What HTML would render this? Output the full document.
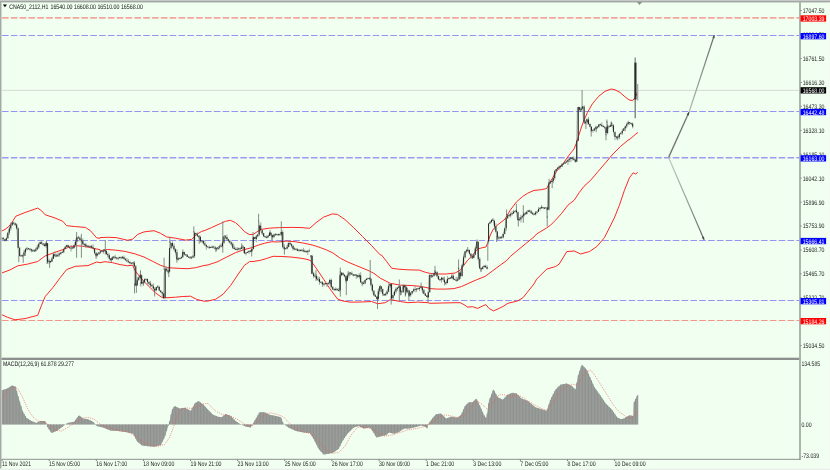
<!DOCTYPE html>
<html><head><meta charset="utf-8"><title>chart</title>
<style>
html,body{margin:0;padding:0;background:#f0fff0;}
body{width:830px;height:470px;overflow:hidden;}
svg{display:block;}
text{font-family:"Liberation Sans",sans-serif;text-rendering:geometricPrecision;}
</style></head><body>
<svg width="830" height="470" viewBox="0 0 830 470">
<defs><filter id="tb" x="-5%" y="-30%" width="110%" height="160%"><feGaussianBlur stdDeviation="0.22"/></filter></defs>
<rect x="0" y="0" width="830" height="470" fill="#f0fff0"/>
<line x1="2" y1="17.8" x2="800" y2="17.8" stroke="#f2a69c" stroke-width="1.8" stroke-dasharray="6.6 2.226"/>
<line x1="2" y1="320.5" x2="800" y2="320.5" stroke="#f2958b" stroke-width="1.2" stroke-dasharray="6.6 2.226"/>
<line x1="2" y1="35.5" x2="800" y2="35.5" stroke="#9494f3" stroke-width="1.2" stroke-dasharray="6.6 2.226"/>
<line x1="2" y1="111.5" x2="800" y2="111.5" stroke="#9494f3" stroke-width="1.2" stroke-dasharray="6.6 2.226"/>
<line x1="2" y1="157.8" x2="800" y2="157.8" stroke="#9a9af3" stroke-width="1.5" stroke-dasharray="6.6 2.226"/>
<line x1="2" y1="240.5" x2="800" y2="240.5" stroke="#9494f3" stroke-width="1.2" stroke-dasharray="6.6 2.226"/>
<line x1="2" y1="300.5" x2="800" y2="300.5" stroke="#9494f3" stroke-width="1.2" stroke-dasharray="6.6 2.226"/>
<line x1="2" y1="90.4" x2="800" y2="90.4" stroke="#d6dbd6" stroke-width="1"/>
<polyline points="1.5,231.1 5.0,229.5 8.8,226.4 11.9,222.6 15.7,216.3 25.1,212.5 37.7,208.1 41.5,210.7 45.2,214.8 54.0,217.6 62.8,221.3 66.6,225.7 75.4,226.6 85.4,227.4 90.5,230.8 96.7,237.9 99.9,238.3 100.0,237.6 107.5,237.3 116.3,237.6 123.9,239.4 127.6,240.3 132.7,239.1 137.7,234.4 144.0,231.9 154.0,230.7 160.3,233.2 166.6,236.9 175.4,238.2 185.4,240.1 191.7,239.4 196.7,234.4 201.8,231.3 204.0,230.8 211.5,227.6 220.3,223.6 225.4,221.3 230.4,220.3 235.4,222.6 240.4,227.0 244.2,231.4 249.2,234.5 253.0,234.5 256.8,232.0 260.5,229.5 269.3,228.2 279.4,227.6 291.9,227.4 302.0,227.6 308.0,228.2 309.8,228.2 316.0,222.7 323.6,217.1 332.4,213.9 337.4,214.4 345.0,219.6 353.7,227.7 362.5,236.5 371.3,245.3 380.1,254.8 381.5,255.0 386.5,261.3 391.6,268.2 397.8,269.1 407.9,269.8 419.2,270.1 425.5,272.3 430.0,273.4 437.5,274.0 446.3,274.0 455.1,273.0 460.2,270.2 463.9,265.2 467.7,260.2 471.5,256.4 475.2,252.0 477.7,248.9 482.8,247.6 485.9,247.0 487.8,242.6 490.3,235.1 492.8,230.0 496.6,225.6 498.8,224.0 505.1,219.0 510.2,210.2 516.4,202.0 522.7,196.4 527.7,193.2 534.0,190.4 540.3,189.8 546.6,188.6 549.1,183.8 552.9,177.5 556.6,171.3 562.8,164.0 569.0,155.2 574.0,149.0 576.6,142.7 579.2,134.0 583.0,122.7 587.4,112.6 592.4,103.8 598.7,96.3 605.0,91.3 611.3,89.0 615.0,89.8 620.1,92.5 625.1,96.9 628.9,99.8 632.6,100.7 635.1,97.6 637.7,91.9" fill="none" stroke="#ff2020" stroke-width="0.97" stroke-linejoin="round"/>
<polyline points="2.0,272.9 10.0,269.9 17.6,265.9 27.6,264.1 37.7,261.5 45.2,255.9 54.0,252.7 62.8,249.6 70.4,246.5 77.9,245.8 85.4,246.5 93.0,248.3 99.9,249.6 100.0,250.8 107.5,249.5 115.1,250.1 125.1,251.4 135.2,253.9 144.0,257.0 152.8,261.4 160.3,265.2 167.8,267.7 177.9,268.3 187.9,268.7 195.5,267.7 204.0,265.5 208.0,264.9 218.0,261.6 219.1,260.9 226.6,257.1 235.4,252.7 244.2,249.6 251.7,247.7 258.0,245.2 264.3,243.3 271.8,241.7 277.5,242.0 286.3,241.1 295.1,241.7 303.9,243.2 312.7,245.1 320.3,247.6 326.5,249.9 332.8,252.9 340.4,258.3 347.9,262.1 355.4,265.2 363.0,268.3 369.2,270.9 374.0,273.4 380.3,278.2 390.3,283.3 400.4,285.2 411.7,285.5 420.5,286.4 428.0,287.9 430.0,288.6 437.5,289.1 445.1,289.1 453.9,288.6 461.4,286.6 468.9,283.2 476.5,279.8 485.3,276.3 492.8,270.7 500.4,265.0 506.6,260.6 510.4,256.4 517.9,250.1 525.5,243.8 534.0,236.9 536.6,234.0 546.5,228.0 550.4,225.3 555.4,220.3 561.7,213.3 567.9,205.2 574.2,200.2 579.2,192.6 584.0,186.3 590.5,180.4 598.0,171.6 605.5,162.8 613.0,154.0 620.6,146.4 628.0,140.2 630.1,139.0 635.1,134.6 637.9,132.5" fill="none" stroke="#ff2020" stroke-width="0.97" stroke-linejoin="round"/>
<polyline points="2.0,314.8 7.5,317.3 15.0,319.8 25.0,318.6 37.7,315.3 41.5,305.3 45.2,296.5 52.8,287.7 60.3,277.6 66.6,269.6 75.4,266.3 88.0,265.6 96.7,262.0 100.0,262.7 105.0,261.7 112.6,262.7 120.1,264.6 127.6,265.8 132.7,265.2 133.2,266.6 135.2,270.8 140.2,277.1 145.2,282.7 150.3,287.8 155.3,292.8 161.6,297.2 165.3,297.8 175.4,297.2 182.9,296.5 190.5,296.2 196.7,299.4 204.0,301.2 208.0,301.0 215.5,299.3 223.0,294.3 230.6,285.5 238.2,274.2 244.4,265.4 249.5,261.6 253.0,261.5 260.5,260.3 266.8,258.4 273.1,256.3 281.9,256.5 291.9,257.1 302.0,258.4 308.0,259.6 311.0,260.9 316.0,267.9 323.6,279.2 330.0,288.9 337.5,299.0 342.6,300.9 350.1,302.1 358.9,302.1 371.5,301.5 377.7,303.7 385.3,302.7 390.3,299.6 400.4,301.5 407.9,302.7 417.9,302.1 428.0,302.7 430.0,303.3 442.6,303.0 455.1,302.7 460.2,302.7 463.9,304.6 467.7,307.1 472.7,306.7 477.7,308.4 482.8,305.9 485.9,304.6 489.0,308.4 493.4,310.9 497.8,309.0 502.9,306.5 507.9,303.3 512.9,302.1 517.9,300.8 523.0,297.7 528.0,291.4 534.0,283.9 536.6,279.2 546.7,269.1 555.4,266.6 559.2,264.1 566.8,251.6 574.3,251.0 580.6,254.0 589.4,251.6 596.9,246.5 604.4,237.7 609.3,228.0 614.3,218.0 619.3,205.5 624.4,190.4 629.4,177.8 633.2,172.8 635.7,174.0 637.7,172.3" fill="none" stroke="#ff2020" stroke-width="0.97" stroke-linejoin="round"/>
<line x1="2.00" y1="237.0" x2="2.00" y2="240.4" stroke="#8a8f8a" stroke-width="0.8"/>
<line x1="3.47" y1="237.1" x2="3.47" y2="239.4" stroke="#8a8f8a" stroke-width="0.8"/>
<line x1="4.94" y1="238.7" x2="4.94" y2="240.6" stroke="#8a8f8a" stroke-width="0.8"/>
<line x1="6.41" y1="237.8" x2="6.41" y2="240.8" stroke="#8a8f8a" stroke-width="0.8"/>
<line x1="7.88" y1="232.5" x2="7.88" y2="238.9" stroke="#8a8f8a" stroke-width="0.8"/>
<line x1="9.35" y1="226.3" x2="9.35" y2="235.0" stroke="#8a8f8a" stroke-width="0.8"/>
<line x1="10.82" y1="222.4" x2="10.82" y2="230.7" stroke="#8a8f8a" stroke-width="0.8"/>
<line x1="12.29" y1="221.8" x2="12.29" y2="226.1" stroke="#8a8f8a" stroke-width="0.8"/>
<line x1="13.76" y1="221.7" x2="13.76" y2="224.2" stroke="#8a8f8a" stroke-width="0.8"/>
<line x1="15.23" y1="222.7" x2="15.23" y2="226.3" stroke="#8a8f8a" stroke-width="0.8"/>
<line x1="16.70" y1="223.6" x2="16.70" y2="229.4" stroke="#8a8f8a" stroke-width="0.8"/>
<line x1="18.17" y1="227.4" x2="18.17" y2="248.1" stroke="#8a8f8a" stroke-width="0.8"/>
<line x1="19.64" y1="246.8" x2="19.64" y2="256.4" stroke="#8a8f8a" stroke-width="0.8"/>
<line x1="21.11" y1="254.5" x2="21.11" y2="256.6" stroke="#8a8f8a" stroke-width="0.8"/>
<line x1="22.58" y1="255.2" x2="22.58" y2="257.2" stroke="#8a8f8a" stroke-width="0.8"/>
<line x1="24.05" y1="249.9" x2="24.05" y2="256.3" stroke="#8a8f8a" stroke-width="0.8"/>
<line x1="25.52" y1="248.5" x2="25.52" y2="256.0" stroke="#8a8f8a" stroke-width="0.8"/>
<line x1="26.99" y1="246.6" x2="26.99" y2="250.4" stroke="#8a8f8a" stroke-width="0.8"/>
<line x1="28.46" y1="247.9" x2="28.46" y2="249.0" stroke="#8a8f8a" stroke-width="0.8"/>
<line x1="29.93" y1="248.5" x2="29.93" y2="251.2" stroke="#8a8f8a" stroke-width="0.8"/>
<line x1="31.40" y1="248.6" x2="31.40" y2="252.4" stroke="#8a8f8a" stroke-width="0.8"/>
<line x1="32.87" y1="249.1" x2="32.87" y2="251.9" stroke="#8a8f8a" stroke-width="0.8"/>
<line x1="34.34" y1="249.3" x2="34.34" y2="251.9" stroke="#8a8f8a" stroke-width="0.8"/>
<line x1="35.81" y1="247.7" x2="35.81" y2="251.8" stroke="#8a8f8a" stroke-width="0.8"/>
<line x1="37.28" y1="245.0" x2="37.28" y2="249.7" stroke="#8a8f8a" stroke-width="0.8"/>
<line x1="38.75" y1="242.6" x2="38.75" y2="248.7" stroke="#8a8f8a" stroke-width="0.8"/>
<line x1="40.22" y1="241.5" x2="40.22" y2="244.2" stroke="#8a8f8a" stroke-width="0.8"/>
<line x1="41.69" y1="240.2" x2="41.69" y2="244.2" stroke="#8a8f8a" stroke-width="0.8"/>
<line x1="43.16" y1="243.3" x2="43.16" y2="245.7" stroke="#8a8f8a" stroke-width="0.8"/>
<line x1="44.63" y1="243.2" x2="44.63" y2="246.7" stroke="#8a8f8a" stroke-width="0.8"/>
<line x1="46.10" y1="241.4" x2="46.10" y2="247.7" stroke="#8a8f8a" stroke-width="0.8"/>
<line x1="47.57" y1="242.9" x2="47.57" y2="263.1" stroke="#8a8f8a" stroke-width="0.8"/>
<line x1="49.04" y1="258.7" x2="49.04" y2="264.1" stroke="#8a8f8a" stroke-width="0.8"/>
<line x1="50.51" y1="260.7" x2="50.51" y2="262.8" stroke="#8a8f8a" stroke-width="0.8"/>
<line x1="51.98" y1="257.0" x2="51.98" y2="261.9" stroke="#8a8f8a" stroke-width="0.8"/>
<line x1="53.45" y1="252.9" x2="53.45" y2="258.8" stroke="#8a8f8a" stroke-width="0.8"/>
<line x1="54.92" y1="251.3" x2="54.92" y2="257.2" stroke="#8a8f8a" stroke-width="0.8"/>
<line x1="56.39" y1="253.8" x2="56.39" y2="256.6" stroke="#8a8f8a" stroke-width="0.8"/>
<line x1="57.86" y1="252.5" x2="57.86" y2="257.1" stroke="#8a8f8a" stroke-width="0.8"/>
<line x1="59.33" y1="252.5" x2="59.33" y2="256.8" stroke="#8a8f8a" stroke-width="0.8"/>
<line x1="60.80" y1="252.1" x2="60.80" y2="254.5" stroke="#8a8f8a" stroke-width="0.8"/>
<line x1="62.27" y1="251.6" x2="62.27" y2="253.0" stroke="#8a8f8a" stroke-width="0.8"/>
<line x1="63.74" y1="248.4" x2="63.74" y2="253.2" stroke="#8a8f8a" stroke-width="0.8"/>
<line x1="65.21" y1="246.0" x2="65.21" y2="249.1" stroke="#8a8f8a" stroke-width="0.8"/>
<line x1="66.68" y1="244.9" x2="66.68" y2="247.0" stroke="#8a8f8a" stroke-width="0.8"/>
<line x1="68.15" y1="244.6" x2="68.15" y2="247.5" stroke="#8a8f8a" stroke-width="0.8"/>
<line x1="69.62" y1="246.2" x2="69.62" y2="248.7" stroke="#8a8f8a" stroke-width="0.8"/>
<line x1="71.09" y1="245.0" x2="71.09" y2="251.5" stroke="#8a8f8a" stroke-width="0.8"/>
<line x1="72.56" y1="247.1" x2="72.56" y2="248.5" stroke="#8a8f8a" stroke-width="0.8"/>
<line x1="74.03" y1="244.7" x2="74.03" y2="248.9" stroke="#8a8f8a" stroke-width="0.8"/>
<line x1="75.50" y1="241.5" x2="75.50" y2="245.5" stroke="#8a8f8a" stroke-width="0.8"/>
<line x1="76.97" y1="237.2" x2="76.97" y2="241.8" stroke="#8a8f8a" stroke-width="0.8"/>
<line x1="78.44" y1="235.9" x2="78.44" y2="238.5" stroke="#8a8f8a" stroke-width="0.8"/>
<line x1="79.91" y1="236.4" x2="79.91" y2="241.4" stroke="#8a8f8a" stroke-width="0.8"/>
<line x1="81.38" y1="239.3" x2="81.38" y2="241.2" stroke="#8a8f8a" stroke-width="0.8"/>
<line x1="82.85" y1="238.3" x2="82.85" y2="244.7" stroke="#8a8f8a" stroke-width="0.8"/>
<line x1="84.32" y1="243.5" x2="84.32" y2="247.0" stroke="#8a8f8a" stroke-width="0.8"/>
<line x1="85.79" y1="242.9" x2="85.79" y2="248.0" stroke="#8a8f8a" stroke-width="0.8"/>
<line x1="87.26" y1="245.7" x2="87.26" y2="247.5" stroke="#8a8f8a" stroke-width="0.8"/>
<line x1="88.73" y1="245.6" x2="88.73" y2="246.9" stroke="#8a8f8a" stroke-width="0.8"/>
<line x1="90.20" y1="245.6" x2="90.20" y2="247.6" stroke="#8a8f8a" stroke-width="0.8"/>
<line x1="91.67" y1="244.7" x2="91.67" y2="248.1" stroke="#8a8f8a" stroke-width="0.8"/>
<line x1="93.14" y1="244.4" x2="93.14" y2="248.7" stroke="#8a8f8a" stroke-width="0.8"/>
<line x1="94.61" y1="248.2" x2="94.61" y2="253.7" stroke="#8a8f8a" stroke-width="0.8"/>
<line x1="96.08" y1="252.2" x2="96.08" y2="257.1" stroke="#8a8f8a" stroke-width="0.8"/>
<line x1="97.55" y1="253.4" x2="97.55" y2="256.6" stroke="#8a8f8a" stroke-width="0.8"/>
<line x1="99.02" y1="252.3" x2="99.02" y2="254.7" stroke="#8a8f8a" stroke-width="0.8"/>
<line x1="100.49" y1="249.8" x2="100.49" y2="253.8" stroke="#8a8f8a" stroke-width="0.8"/>
<line x1="101.96" y1="250.5" x2="101.96" y2="252.2" stroke="#8a8f8a" stroke-width="0.8"/>
<line x1="103.43" y1="249.5" x2="103.43" y2="253.6" stroke="#8a8f8a" stroke-width="0.8"/>
<line x1="104.90" y1="249.3" x2="104.90" y2="251.9" stroke="#8a8f8a" stroke-width="0.8"/>
<line x1="106.37" y1="250.7" x2="106.37" y2="254.8" stroke="#8a8f8a" stroke-width="0.8"/>
<line x1="107.84" y1="252.4" x2="107.84" y2="257.4" stroke="#8a8f8a" stroke-width="0.8"/>
<line x1="109.31" y1="253.6" x2="109.31" y2="260.6" stroke="#8a8f8a" stroke-width="0.8"/>
<line x1="110.78" y1="258.0" x2="110.78" y2="261.0" stroke="#8a8f8a" stroke-width="0.8"/>
<line x1="112.25" y1="257.2" x2="112.25" y2="260.2" stroke="#8a8f8a" stroke-width="0.8"/>
<line x1="113.72" y1="256.1" x2="113.72" y2="259.1" stroke="#8a8f8a" stroke-width="0.8"/>
<line x1="115.19" y1="254.9" x2="115.19" y2="259.1" stroke="#8a8f8a" stroke-width="0.8"/>
<line x1="116.66" y1="257.5" x2="116.66" y2="259.5" stroke="#8a8f8a" stroke-width="0.8"/>
<line x1="118.13" y1="257.6" x2="118.13" y2="260.2" stroke="#8a8f8a" stroke-width="0.8"/>
<line x1="119.60" y1="256.6" x2="119.60" y2="258.3" stroke="#8a8f8a" stroke-width="0.8"/>
<line x1="121.07" y1="256.5" x2="121.07" y2="259.3" stroke="#8a8f8a" stroke-width="0.8"/>
<line x1="122.54" y1="256.0" x2="122.54" y2="258.9" stroke="#8a8f8a" stroke-width="0.8"/>
<line x1="124.01" y1="255.6" x2="124.01" y2="259.2" stroke="#8a8f8a" stroke-width="0.8"/>
<line x1="125.48" y1="257.8" x2="125.48" y2="260.4" stroke="#8a8f8a" stroke-width="0.8"/>
<line x1="126.95" y1="257.9" x2="126.95" y2="261.2" stroke="#8a8f8a" stroke-width="0.8"/>
<line x1="128.42" y1="259.0" x2="128.42" y2="262.2" stroke="#8a8f8a" stroke-width="0.8"/>
<line x1="129.89" y1="261.1" x2="129.89" y2="264.4" stroke="#8a8f8a" stroke-width="0.8"/>
<line x1="131.36" y1="262.7" x2="131.36" y2="264.2" stroke="#8a8f8a" stroke-width="0.8"/>
<line x1="132.83" y1="262.6" x2="132.83" y2="264.5" stroke="#8a8f8a" stroke-width="0.8"/>
<line x1="134.30" y1="261.0" x2="134.30" y2="266.4" stroke="#8a8f8a" stroke-width="0.8"/>
<line x1="135.77" y1="265.1" x2="135.77" y2="286.2" stroke="#8a8f8a" stroke-width="0.8"/>
<line x1="137.24" y1="278.6" x2="137.24" y2="285.5" stroke="#8a8f8a" stroke-width="0.8"/>
<line x1="138.71" y1="276.3" x2="138.71" y2="280.6" stroke="#8a8f8a" stroke-width="0.8"/>
<line x1="140.18" y1="273.4" x2="140.18" y2="278.6" stroke="#8a8f8a" stroke-width="0.8"/>
<line x1="141.65" y1="274.4" x2="141.65" y2="284.0" stroke="#8a8f8a" stroke-width="0.8"/>
<line x1="143.12" y1="280.0" x2="143.12" y2="284.5" stroke="#8a8f8a" stroke-width="0.8"/>
<line x1="144.59" y1="278.3" x2="144.59" y2="283.3" stroke="#8a8f8a" stroke-width="0.8"/>
<line x1="146.06" y1="278.8" x2="146.06" y2="280.1" stroke="#8a8f8a" stroke-width="0.8"/>
<line x1="147.53" y1="278.5" x2="147.53" y2="284.5" stroke="#8a8f8a" stroke-width="0.8"/>
<line x1="149.00" y1="281.4" x2="149.00" y2="285.2" stroke="#8a8f8a" stroke-width="0.8"/>
<line x1="150.47" y1="280.9" x2="150.47" y2="287.1" stroke="#8a8f8a" stroke-width="0.8"/>
<line x1="151.94" y1="283.6" x2="151.94" y2="286.4" stroke="#8a8f8a" stroke-width="0.8"/>
<line x1="153.41" y1="283.6" x2="153.41" y2="288.7" stroke="#8a8f8a" stroke-width="0.8"/>
<line x1="154.88" y1="287.1" x2="154.88" y2="290.9" stroke="#8a8f8a" stroke-width="0.8"/>
<line x1="156.35" y1="286.8" x2="156.35" y2="291.3" stroke="#8a8f8a" stroke-width="0.8"/>
<line x1="157.82" y1="285.0" x2="157.82" y2="287.7" stroke="#8a8f8a" stroke-width="0.8"/>
<line x1="159.29" y1="285.8" x2="159.29" y2="290.6" stroke="#8a8f8a" stroke-width="0.8"/>
<line x1="160.76" y1="290.0" x2="160.76" y2="292.3" stroke="#8a8f8a" stroke-width="0.8"/>
<line x1="162.23" y1="291.5" x2="162.23" y2="296.9" stroke="#8a8f8a" stroke-width="0.8"/>
<line x1="163.70" y1="293.5" x2="163.70" y2="298.1" stroke="#8a8f8a" stroke-width="0.8"/>
<line x1="165.17" y1="268.9" x2="165.17" y2="298.4" stroke="#8a8f8a" stroke-width="0.8"/>
<line x1="166.64" y1="266.9" x2="166.64" y2="271.5" stroke="#8a8f8a" stroke-width="0.8"/>
<line x1="168.11" y1="268.5" x2="168.11" y2="274.1" stroke="#8a8f8a" stroke-width="0.8"/>
<line x1="169.58" y1="247.9" x2="169.58" y2="272.3" stroke="#8a8f8a" stroke-width="0.8"/>
<line x1="171.05" y1="242.6" x2="171.05" y2="249.3" stroke="#8a8f8a" stroke-width="0.8"/>
<line x1="172.52" y1="241.4" x2="172.52" y2="246.5" stroke="#8a8f8a" stroke-width="0.8"/>
<line x1="173.99" y1="243.6" x2="173.99" y2="250.6" stroke="#8a8f8a" stroke-width="0.8"/>
<line x1="175.46" y1="248.3" x2="175.46" y2="253.1" stroke="#8a8f8a" stroke-width="0.8"/>
<line x1="176.93" y1="249.2" x2="176.93" y2="260.2" stroke="#8a8f8a" stroke-width="0.8"/>
<line x1="178.40" y1="257.4" x2="178.40" y2="260.5" stroke="#8a8f8a" stroke-width="0.8"/>
<line x1="179.87" y1="257.4" x2="179.87" y2="259.3" stroke="#8a8f8a" stroke-width="0.8"/>
<line x1="181.34" y1="256.7" x2="181.34" y2="259.1" stroke="#8a8f8a" stroke-width="0.8"/>
<line x1="182.81" y1="252.0" x2="182.81" y2="258.1" stroke="#8a8f8a" stroke-width="0.8"/>
<line x1="184.28" y1="251.6" x2="184.28" y2="255.4" stroke="#8a8f8a" stroke-width="0.8"/>
<line x1="185.75" y1="254.2" x2="185.75" y2="255.2" stroke="#8a8f8a" stroke-width="0.8"/>
<line x1="187.22" y1="254.0" x2="187.22" y2="257.0" stroke="#8a8f8a" stroke-width="0.8"/>
<line x1="188.69" y1="256.2" x2="188.69" y2="257.8" stroke="#8a8f8a" stroke-width="0.8"/>
<line x1="190.16" y1="256.0" x2="190.16" y2="258.8" stroke="#8a8f8a" stroke-width="0.8"/>
<line x1="191.63" y1="256.3" x2="191.63" y2="259.2" stroke="#8a8f8a" stroke-width="0.8"/>
<line x1="193.10" y1="255.0" x2="193.10" y2="257.8" stroke="#8a8f8a" stroke-width="0.8"/>
<line x1="194.57" y1="232.5" x2="194.57" y2="258.0" stroke="#8a8f8a" stroke-width="0.8"/>
<line x1="196.04" y1="232.8" x2="196.04" y2="234.7" stroke="#8a8f8a" stroke-width="0.8"/>
<line x1="197.51" y1="232.4" x2="197.51" y2="236.6" stroke="#8a8f8a" stroke-width="0.8"/>
<line x1="198.98" y1="235.4" x2="198.98" y2="237.5" stroke="#8a8f8a" stroke-width="0.8"/>
<line x1="200.45" y1="235.7" x2="200.45" y2="242.6" stroke="#8a8f8a" stroke-width="0.8"/>
<line x1="201.92" y1="240.5" x2="201.92" y2="242.5" stroke="#8a8f8a" stroke-width="0.8"/>
<line x1="203.39" y1="240.0" x2="203.39" y2="244.4" stroke="#8a8f8a" stroke-width="0.8"/>
<line x1="204.86" y1="239.9" x2="204.86" y2="245.7" stroke="#8a8f8a" stroke-width="0.8"/>
<line x1="206.33" y1="244.7" x2="206.33" y2="249.8" stroke="#8a8f8a" stroke-width="0.8"/>
<line x1="207.80" y1="246.3" x2="207.80" y2="247.2" stroke="#8a8f8a" stroke-width="0.8"/>
<line x1="209.27" y1="245.6" x2="209.27" y2="248.2" stroke="#8a8f8a" stroke-width="0.8"/>
<line x1="210.74" y1="246.8" x2="210.74" y2="248.0" stroke="#8a8f8a" stroke-width="0.8"/>
<line x1="212.21" y1="245.5" x2="212.21" y2="248.1" stroke="#8a8f8a" stroke-width="0.8"/>
<line x1="213.68" y1="245.6" x2="213.68" y2="247.7" stroke="#8a8f8a" stroke-width="0.8"/>
<line x1="215.15" y1="245.9" x2="215.15" y2="249.4" stroke="#8a8f8a" stroke-width="0.8"/>
<line x1="216.62" y1="247.3" x2="216.62" y2="251.0" stroke="#8a8f8a" stroke-width="0.8"/>
<line x1="218.09" y1="246.7" x2="218.09" y2="249.8" stroke="#8a8f8a" stroke-width="0.8"/>
<line x1="219.56" y1="245.4" x2="219.56" y2="249.2" stroke="#8a8f8a" stroke-width="0.8"/>
<line x1="221.03" y1="243.5" x2="221.03" y2="247.4" stroke="#8a8f8a" stroke-width="0.8"/>
<line x1="222.50" y1="241.3" x2="222.50" y2="247.5" stroke="#8a8f8a" stroke-width="0.8"/>
<line x1="223.97" y1="235.7" x2="223.97" y2="244.0" stroke="#8a8f8a" stroke-width="0.8"/>
<line x1="225.44" y1="235.3" x2="225.44" y2="239.3" stroke="#8a8f8a" stroke-width="0.8"/>
<line x1="226.91" y1="234.6" x2="226.91" y2="240.6" stroke="#8a8f8a" stroke-width="0.8"/>
<line x1="228.38" y1="238.8" x2="228.38" y2="241.6" stroke="#8a8f8a" stroke-width="0.8"/>
<line x1="229.85" y1="239.9" x2="229.85" y2="243.2" stroke="#8a8f8a" stroke-width="0.8"/>
<line x1="231.32" y1="241.5" x2="231.32" y2="245.3" stroke="#8a8f8a" stroke-width="0.8"/>
<line x1="232.79" y1="242.5" x2="232.79" y2="249.1" stroke="#8a8f8a" stroke-width="0.8"/>
<line x1="234.26" y1="245.4" x2="234.26" y2="249.1" stroke="#8a8f8a" stroke-width="0.8"/>
<line x1="235.73" y1="247.4" x2="235.73" y2="249.9" stroke="#8a8f8a" stroke-width="0.8"/>
<line x1="237.20" y1="247.2" x2="237.20" y2="250.8" stroke="#8a8f8a" stroke-width="0.8"/>
<line x1="238.67" y1="247.6" x2="238.67" y2="249.8" stroke="#8a8f8a" stroke-width="0.8"/>
<line x1="240.14" y1="247.8" x2="240.14" y2="251.2" stroke="#8a8f8a" stroke-width="0.8"/>
<line x1="241.61" y1="246.2" x2="241.61" y2="249.0" stroke="#8a8f8a" stroke-width="0.8"/>
<line x1="243.08" y1="246.0" x2="243.08" y2="249.7" stroke="#8a8f8a" stroke-width="0.8"/>
<line x1="244.55" y1="246.8" x2="244.55" y2="253.7" stroke="#8a8f8a" stroke-width="0.8"/>
<line x1="246.02" y1="252.4" x2="246.02" y2="255.4" stroke="#8a8f8a" stroke-width="0.8"/>
<line x1="247.49" y1="251.7" x2="247.49" y2="252.7" stroke="#8a8f8a" stroke-width="0.8"/>
<line x1="248.96" y1="250.6" x2="248.96" y2="253.9" stroke="#8a8f8a" stroke-width="0.8"/>
<line x1="250.43" y1="250.2" x2="250.43" y2="252.4" stroke="#8a8f8a" stroke-width="0.8"/>
<line x1="251.90" y1="247.6" x2="251.90" y2="251.6" stroke="#8a8f8a" stroke-width="0.8"/>
<line x1="253.37" y1="236.4" x2="253.37" y2="249.6" stroke="#8a8f8a" stroke-width="0.8"/>
<line x1="254.84" y1="236.9" x2="254.84" y2="239.2" stroke="#8a8f8a" stroke-width="0.8"/>
<line x1="256.31" y1="234.9" x2="256.31" y2="242.2" stroke="#8a8f8a" stroke-width="0.8"/>
<line x1="257.78" y1="234.4" x2="257.78" y2="237.3" stroke="#8a8f8a" stroke-width="0.8"/>
<line x1="259.25" y1="225.2" x2="259.25" y2="236.1" stroke="#8a8f8a" stroke-width="0.8"/>
<line x1="260.72" y1="222.4" x2="260.72" y2="230.7" stroke="#8a8f8a" stroke-width="0.8"/>
<line x1="262.19" y1="229.5" x2="262.19" y2="234.5" stroke="#8a8f8a" stroke-width="0.8"/>
<line x1="263.66" y1="232.8" x2="263.66" y2="237.2" stroke="#8a8f8a" stroke-width="0.8"/>
<line x1="265.13" y1="236.0" x2="265.13" y2="237.4" stroke="#8a8f8a" stroke-width="0.8"/>
<line x1="266.60" y1="235.5" x2="266.60" y2="237.8" stroke="#8a8f8a" stroke-width="0.8"/>
<line x1="268.07" y1="235.1" x2="268.07" y2="238.1" stroke="#8a8f8a" stroke-width="0.8"/>
<line x1="269.54" y1="232.8" x2="269.54" y2="235.9" stroke="#8a8f8a" stroke-width="0.8"/>
<line x1="271.01" y1="232.5" x2="271.01" y2="235.8" stroke="#8a8f8a" stroke-width="0.8"/>
<line x1="272.48" y1="234.6" x2="272.48" y2="239.8" stroke="#8a8f8a" stroke-width="0.8"/>
<line x1="273.95" y1="233.7" x2="273.95" y2="238.1" stroke="#8a8f8a" stroke-width="0.8"/>
<line x1="275.42" y1="233.3" x2="275.42" y2="235.8" stroke="#8a8f8a" stroke-width="0.8"/>
<line x1="276.89" y1="234.2" x2="276.89" y2="235.5" stroke="#8a8f8a" stroke-width="0.8"/>
<line x1="278.36" y1="233.4" x2="278.36" y2="235.7" stroke="#8a8f8a" stroke-width="0.8"/>
<line x1="279.83" y1="234.1" x2="279.83" y2="235.9" stroke="#8a8f8a" stroke-width="0.8"/>
<line x1="281.30" y1="231.6" x2="281.30" y2="235.8" stroke="#8a8f8a" stroke-width="0.8"/>
<line x1="282.77" y1="230.2" x2="282.77" y2="248.4" stroke="#8a8f8a" stroke-width="0.8"/>
<line x1="284.24" y1="244.1" x2="284.24" y2="250.3" stroke="#8a8f8a" stroke-width="0.8"/>
<line x1="285.71" y1="248.2" x2="285.71" y2="249.5" stroke="#8a8f8a" stroke-width="0.8"/>
<line x1="287.18" y1="245.0" x2="287.18" y2="249.3" stroke="#8a8f8a" stroke-width="0.8"/>
<line x1="288.65" y1="243.0" x2="288.65" y2="247.4" stroke="#8a8f8a" stroke-width="0.8"/>
<line x1="290.12" y1="242.1" x2="290.12" y2="245.2" stroke="#8a8f8a" stroke-width="0.8"/>
<line x1="291.59" y1="243.5" x2="291.59" y2="247.7" stroke="#8a8f8a" stroke-width="0.8"/>
<line x1="293.06" y1="245.5" x2="293.06" y2="250.8" stroke="#8a8f8a" stroke-width="0.8"/>
<line x1="294.53" y1="247.3" x2="294.53" y2="249.8" stroke="#8a8f8a" stroke-width="0.8"/>
<line x1="296.00" y1="248.2" x2="296.00" y2="250.3" stroke="#8a8f8a" stroke-width="0.8"/>
<line x1="297.47" y1="248.4" x2="297.47" y2="250.8" stroke="#8a8f8a" stroke-width="0.8"/>
<line x1="298.94" y1="249.0" x2="298.94" y2="251.3" stroke="#8a8f8a" stroke-width="0.8"/>
<line x1="300.41" y1="249.6" x2="300.41" y2="251.4" stroke="#8a8f8a" stroke-width="0.8"/>
<line x1="301.88" y1="249.0" x2="301.88" y2="251.1" stroke="#8a8f8a" stroke-width="0.8"/>
<line x1="303.35" y1="247.8" x2="303.35" y2="252.2" stroke="#8a8f8a" stroke-width="0.8"/>
<line x1="304.82" y1="249.6" x2="304.82" y2="252.5" stroke="#8a8f8a" stroke-width="0.8"/>
<line x1="306.29" y1="250.4" x2="306.29" y2="252.9" stroke="#8a8f8a" stroke-width="0.8"/>
<line x1="307.76" y1="250.2" x2="307.76" y2="255.0" stroke="#8a8f8a" stroke-width="0.8"/>
<line x1="309.23" y1="248.7" x2="309.23" y2="251.4" stroke="#8a8f8a" stroke-width="0.8"/>
<line x1="310.70" y1="255.4" x2="310.70" y2="257.4" stroke="#8a8f8a" stroke-width="0.8"/>
<line x1="312.17" y1="254.9" x2="312.17" y2="274.0" stroke="#8a8f8a" stroke-width="0.8"/>
<line x1="313.64" y1="271.7" x2="313.64" y2="278.2" stroke="#8a8f8a" stroke-width="0.8"/>
<line x1="315.11" y1="273.7" x2="315.11" y2="276.9" stroke="#8a8f8a" stroke-width="0.8"/>
<line x1="316.58" y1="274.3" x2="316.58" y2="279.5" stroke="#8a8f8a" stroke-width="0.8"/>
<line x1="318.05" y1="276.4" x2="318.05" y2="281.4" stroke="#8a8f8a" stroke-width="0.8"/>
<line x1="319.52" y1="276.9" x2="319.52" y2="284.8" stroke="#8a8f8a" stroke-width="0.8"/>
<line x1="320.99" y1="281.2" x2="320.99" y2="283.1" stroke="#8a8f8a" stroke-width="0.8"/>
<line x1="322.46" y1="281.2" x2="322.46" y2="287.0" stroke="#8a8f8a" stroke-width="0.8"/>
<line x1="323.93" y1="282.5" x2="323.93" y2="286.4" stroke="#8a8f8a" stroke-width="0.8"/>
<line x1="325.40" y1="283.2" x2="325.40" y2="284.4" stroke="#8a8f8a" stroke-width="0.8"/>
<line x1="326.87" y1="283.0" x2="326.87" y2="287.0" stroke="#8a8f8a" stroke-width="0.8"/>
<line x1="328.34" y1="282.9" x2="328.34" y2="284.6" stroke="#8a8f8a" stroke-width="0.8"/>
<line x1="329.81" y1="278.7" x2="329.81" y2="284.8" stroke="#8a8f8a" stroke-width="0.8"/>
<line x1="331.28" y1="278.6" x2="331.28" y2="287.6" stroke="#8a8f8a" stroke-width="0.8"/>
<line x1="332.75" y1="286.2" x2="332.75" y2="289.9" stroke="#8a8f8a" stroke-width="0.8"/>
<line x1="334.22" y1="288.2" x2="334.22" y2="290.2" stroke="#8a8f8a" stroke-width="0.8"/>
<line x1="335.69" y1="287.3" x2="335.69" y2="290.6" stroke="#8a8f8a" stroke-width="0.8"/>
<line x1="337.16" y1="288.2" x2="337.16" y2="290.4" stroke="#8a8f8a" stroke-width="0.8"/>
<line x1="338.63" y1="287.9" x2="338.63" y2="291.2" stroke="#8a8f8a" stroke-width="0.8"/>
<line x1="340.10" y1="273.9" x2="340.10" y2="290.5" stroke="#8a8f8a" stroke-width="0.8"/>
<line x1="341.57" y1="272.1" x2="341.57" y2="275.9" stroke="#8a8f8a" stroke-width="0.8"/>
<line x1="343.04" y1="272.2" x2="343.04" y2="275.2" stroke="#8a8f8a" stroke-width="0.8"/>
<line x1="344.51" y1="274.1" x2="344.51" y2="277.0" stroke="#8a8f8a" stroke-width="0.8"/>
<line x1="345.98" y1="275.1" x2="345.98" y2="282.9" stroke="#8a8f8a" stroke-width="0.8"/>
<line x1="347.45" y1="274.8" x2="347.45" y2="280.7" stroke="#8a8f8a" stroke-width="0.8"/>
<line x1="348.92" y1="272.0" x2="348.92" y2="277.9" stroke="#8a8f8a" stroke-width="0.8"/>
<line x1="350.39" y1="272.1" x2="350.39" y2="275.5" stroke="#8a8f8a" stroke-width="0.8"/>
<line x1="351.86" y1="271.6" x2="351.86" y2="274.8" stroke="#8a8f8a" stroke-width="0.8"/>
<line x1="353.33" y1="274.1" x2="353.33" y2="276.4" stroke="#8a8f8a" stroke-width="0.8"/>
<line x1="354.80" y1="274.1" x2="354.80" y2="275.8" stroke="#8a8f8a" stroke-width="0.8"/>
<line x1="356.27" y1="274.0" x2="356.27" y2="279.0" stroke="#8a8f8a" stroke-width="0.8"/>
<line x1="357.74" y1="274.7" x2="357.74" y2="276.9" stroke="#8a8f8a" stroke-width="0.8"/>
<line x1="359.21" y1="273.1" x2="359.21" y2="278.4" stroke="#8a8f8a" stroke-width="0.8"/>
<line x1="360.68" y1="272.3" x2="360.68" y2="282.4" stroke="#8a8f8a" stroke-width="0.8"/>
<line x1="362.15" y1="281.1" x2="362.15" y2="286.4" stroke="#8a8f8a" stroke-width="0.8"/>
<line x1="363.62" y1="281.2" x2="363.62" y2="284.3" stroke="#8a8f8a" stroke-width="0.8"/>
<line x1="365.09" y1="279.3" x2="365.09" y2="284.2" stroke="#8a8f8a" stroke-width="0.8"/>
<line x1="366.56" y1="277.8" x2="366.56" y2="280.1" stroke="#8a8f8a" stroke-width="0.8"/>
<line x1="368.03" y1="277.6" x2="368.03" y2="279.2" stroke="#8a8f8a" stroke-width="0.8"/>
<line x1="369.50" y1="277.9" x2="369.50" y2="280.2" stroke="#8a8f8a" stroke-width="0.8"/>
<line x1="370.97" y1="278.2" x2="370.97" y2="286.1" stroke="#8a8f8a" stroke-width="0.8"/>
<line x1="372.44" y1="283.6" x2="372.44" y2="290.9" stroke="#8a8f8a" stroke-width="0.8"/>
<line x1="373.91" y1="290.3" x2="373.91" y2="296.4" stroke="#8a8f8a" stroke-width="0.8"/>
<line x1="375.38" y1="294.0" x2="375.38" y2="296.9" stroke="#8a8f8a" stroke-width="0.8"/>
<line x1="376.85" y1="296.7" x2="376.85" y2="299.3" stroke="#8a8f8a" stroke-width="0.8"/>
<line x1="378.32" y1="288.6" x2="378.32" y2="300.0" stroke="#8a8f8a" stroke-width="0.8"/>
<line x1="379.79" y1="286.4" x2="379.79" y2="294.1" stroke="#8a8f8a" stroke-width="0.8"/>
<line x1="381.26" y1="286.0" x2="381.26" y2="292.1" stroke="#8a8f8a" stroke-width="0.8"/>
<line x1="382.73" y1="288.8" x2="382.73" y2="296.0" stroke="#8a8f8a" stroke-width="0.8"/>
<line x1="384.20" y1="293.9" x2="384.20" y2="295.3" stroke="#8a8f8a" stroke-width="0.8"/>
<line x1="385.67" y1="292.6" x2="385.67" y2="296.1" stroke="#8a8f8a" stroke-width="0.8"/>
<line x1="387.14" y1="290.6" x2="387.14" y2="294.3" stroke="#8a8f8a" stroke-width="0.8"/>
<line x1="388.61" y1="283.2" x2="388.61" y2="292.4" stroke="#8a8f8a" stroke-width="0.8"/>
<line x1="390.08" y1="283.9" x2="390.08" y2="287.7" stroke="#8a8f8a" stroke-width="0.8"/>
<line x1="391.55" y1="283.2" x2="391.55" y2="298.5" stroke="#8a8f8a" stroke-width="0.8"/>
<line x1="393.02" y1="295.1" x2="393.02" y2="300.6" stroke="#8a8f8a" stroke-width="0.8"/>
<line x1="394.49" y1="290.9" x2="394.49" y2="296.0" stroke="#8a8f8a" stroke-width="0.8"/>
<line x1="395.96" y1="287.4" x2="395.96" y2="293.6" stroke="#8a8f8a" stroke-width="0.8"/>
<line x1="397.43" y1="287.0" x2="397.43" y2="290.9" stroke="#8a8f8a" stroke-width="0.8"/>
<line x1="398.90" y1="286.1" x2="398.90" y2="287.9" stroke="#8a8f8a" stroke-width="0.8"/>
<line x1="400.37" y1="284.8" x2="400.37" y2="295.3" stroke="#8a8f8a" stroke-width="0.8"/>
<line x1="401.84" y1="290.6" x2="401.84" y2="292.5" stroke="#8a8f8a" stroke-width="0.8"/>
<line x1="403.31" y1="284.3" x2="403.31" y2="292.9" stroke="#8a8f8a" stroke-width="0.8"/>
<line x1="404.78" y1="284.6" x2="404.78" y2="287.6" stroke="#8a8f8a" stroke-width="0.8"/>
<line x1="406.25" y1="285.8" x2="406.25" y2="293.0" stroke="#8a8f8a" stroke-width="0.8"/>
<line x1="407.72" y1="289.4" x2="407.72" y2="293.3" stroke="#8a8f8a" stroke-width="0.8"/>
<line x1="409.19" y1="289.9" x2="409.19" y2="296.2" stroke="#8a8f8a" stroke-width="0.8"/>
<line x1="410.66" y1="292.0" x2="410.66" y2="296.8" stroke="#8a8f8a" stroke-width="0.8"/>
<line x1="412.13" y1="291.0" x2="412.13" y2="294.4" stroke="#8a8f8a" stroke-width="0.8"/>
<line x1="413.60" y1="288.3" x2="413.60" y2="292.2" stroke="#8a8f8a" stroke-width="0.8"/>
<line x1="415.07" y1="285.8" x2="415.07" y2="292.3" stroke="#8a8f8a" stroke-width="0.8"/>
<line x1="416.54" y1="288.4" x2="416.54" y2="291.9" stroke="#8a8f8a" stroke-width="0.8"/>
<line x1="418.01" y1="287.9" x2="418.01" y2="289.4" stroke="#8a8f8a" stroke-width="0.8"/>
<line x1="419.48" y1="286.9" x2="419.48" y2="291.1" stroke="#8a8f8a" stroke-width="0.8"/>
<line x1="420.95" y1="286.2" x2="420.95" y2="288.3" stroke="#8a8f8a" stroke-width="0.8"/>
<line x1="422.42" y1="286.0" x2="422.42" y2="293.3" stroke="#8a8f8a" stroke-width="0.8"/>
<line x1="423.89" y1="289.0" x2="423.89" y2="294.3" stroke="#8a8f8a" stroke-width="0.8"/>
<line x1="425.36" y1="292.8" x2="425.36" y2="296.0" stroke="#8a8f8a" stroke-width="0.8"/>
<line x1="426.83" y1="295.1" x2="426.83" y2="297.2" stroke="#8a8f8a" stroke-width="0.8"/>
<line x1="428.30" y1="291.6" x2="428.30" y2="297.7" stroke="#8a8f8a" stroke-width="0.8"/>
<line x1="429.77" y1="274.5" x2="429.77" y2="292.9" stroke="#8a8f8a" stroke-width="0.8"/>
<line x1="431.24" y1="273.5" x2="431.24" y2="277.6" stroke="#8a8f8a" stroke-width="0.8"/>
<line x1="432.71" y1="274.5" x2="432.71" y2="276.6" stroke="#8a8f8a" stroke-width="0.8"/>
<line x1="434.18" y1="272.7" x2="434.18" y2="276.7" stroke="#8a8f8a" stroke-width="0.8"/>
<line x1="435.65" y1="271.8" x2="435.65" y2="274.7" stroke="#8a8f8a" stroke-width="0.8"/>
<line x1="437.12" y1="271.2" x2="437.12" y2="276.9" stroke="#8a8f8a" stroke-width="0.8"/>
<line x1="438.59" y1="275.7" x2="438.59" y2="279.8" stroke="#8a8f8a" stroke-width="0.8"/>
<line x1="440.06" y1="278.7" x2="440.06" y2="281.2" stroke="#8a8f8a" stroke-width="0.8"/>
<line x1="441.53" y1="276.8" x2="441.53" y2="282.7" stroke="#8a8f8a" stroke-width="0.8"/>
<line x1="443.00" y1="276.8" x2="443.00" y2="280.1" stroke="#8a8f8a" stroke-width="0.8"/>
<line x1="444.47" y1="276.7" x2="444.47" y2="285.5" stroke="#8a8f8a" stroke-width="0.8"/>
<line x1="445.94" y1="281.5" x2="445.94" y2="285.1" stroke="#8a8f8a" stroke-width="0.8"/>
<line x1="447.41" y1="276.2" x2="447.41" y2="283.2" stroke="#8a8f8a" stroke-width="0.8"/>
<line x1="448.88" y1="277.6" x2="448.88" y2="280.2" stroke="#8a8f8a" stroke-width="0.8"/>
<line x1="450.35" y1="277.1" x2="450.35" y2="278.9" stroke="#8a8f8a" stroke-width="0.8"/>
<line x1="451.82" y1="274.0" x2="451.82" y2="278.9" stroke="#8a8f8a" stroke-width="0.8"/>
<line x1="453.29" y1="274.2" x2="453.29" y2="280.2" stroke="#8a8f8a" stroke-width="0.8"/>
<line x1="454.76" y1="278.3" x2="454.76" y2="279.9" stroke="#8a8f8a" stroke-width="0.8"/>
<line x1="456.23" y1="276.8" x2="456.23" y2="281.0" stroke="#8a8f8a" stroke-width="0.8"/>
<line x1="457.70" y1="277.1" x2="457.70" y2="280.8" stroke="#8a8f8a" stroke-width="0.8"/>
<line x1="459.17" y1="272.3" x2="459.17" y2="280.1" stroke="#8a8f8a" stroke-width="0.8"/>
<line x1="460.64" y1="271.1" x2="460.64" y2="276.4" stroke="#8a8f8a" stroke-width="0.8"/>
<line x1="462.11" y1="264.1" x2="462.11" y2="276.7" stroke="#8a8f8a" stroke-width="0.8"/>
<line x1="463.58" y1="255.7" x2="463.58" y2="266.9" stroke="#8a8f8a" stroke-width="0.8"/>
<line x1="465.05" y1="251.2" x2="465.05" y2="258.3" stroke="#8a8f8a" stroke-width="0.8"/>
<line x1="466.52" y1="249.0" x2="466.52" y2="253.4" stroke="#8a8f8a" stroke-width="0.8"/>
<line x1="467.99" y1="249.6" x2="467.99" y2="251.9" stroke="#8a8f8a" stroke-width="0.8"/>
<line x1="469.46" y1="249.6" x2="469.46" y2="254.1" stroke="#8a8f8a" stroke-width="0.8"/>
<line x1="470.93" y1="253.2" x2="470.93" y2="258.9" stroke="#8a8f8a" stroke-width="0.8"/>
<line x1="472.40" y1="254.1" x2="472.40" y2="258.5" stroke="#8a8f8a" stroke-width="0.8"/>
<line x1="473.87" y1="254.4" x2="473.87" y2="258.2" stroke="#8a8f8a" stroke-width="0.8"/>
<line x1="475.34" y1="246.8" x2="475.34" y2="255.3" stroke="#8a8f8a" stroke-width="0.8"/>
<line x1="476.81" y1="240.6" x2="476.81" y2="249.3" stroke="#8a8f8a" stroke-width="0.8"/>
<line x1="478.28" y1="241.3" x2="478.28" y2="260.1" stroke="#8a8f8a" stroke-width="0.8"/>
<line x1="479.75" y1="257.1" x2="479.75" y2="268.6" stroke="#8a8f8a" stroke-width="0.8"/>
<line x1="481.22" y1="268.1" x2="481.22" y2="271.3" stroke="#8a8f8a" stroke-width="0.8"/>
<line x1="482.69" y1="266.4" x2="482.69" y2="269.3" stroke="#8a8f8a" stroke-width="0.8"/>
<line x1="484.16" y1="265.4" x2="484.16" y2="267.6" stroke="#8a8f8a" stroke-width="0.8"/>
<line x1="485.63" y1="264.7" x2="485.63" y2="267.8" stroke="#8a8f8a" stroke-width="0.8"/>
<line x1="487.10" y1="265.2" x2="487.10" y2="269.1" stroke="#8a8f8a" stroke-width="0.8"/>
<line x1="488.57" y1="223.3" x2="488.57" y2="243.7" stroke="#8a8f8a" stroke-width="0.8"/>
<line x1="490.04" y1="220.9" x2="490.04" y2="224.0" stroke="#8a8f8a" stroke-width="0.8"/>
<line x1="491.51" y1="219.5" x2="491.51" y2="222.5" stroke="#8a8f8a" stroke-width="0.8"/>
<line x1="492.98" y1="218.0" x2="492.98" y2="221.0" stroke="#8a8f8a" stroke-width="0.8"/>
<line x1="494.45" y1="219.7" x2="494.45" y2="229.7" stroke="#8a8f8a" stroke-width="0.8"/>
<line x1="495.92" y1="223.5" x2="495.92" y2="232.3" stroke="#8a8f8a" stroke-width="0.8"/>
<line x1="497.39" y1="230.8" x2="497.39" y2="240.0" stroke="#8a8f8a" stroke-width="0.8"/>
<line x1="498.86" y1="235.8" x2="498.86" y2="239.6" stroke="#8a8f8a" stroke-width="0.8"/>
<line x1="500.33" y1="236.4" x2="500.33" y2="238.7" stroke="#8a8f8a" stroke-width="0.8"/>
<line x1="501.80" y1="236.0" x2="501.80" y2="239.0" stroke="#8a8f8a" stroke-width="0.8"/>
<line x1="503.27" y1="233.7" x2="503.27" y2="238.3" stroke="#8a8f8a" stroke-width="0.8"/>
<line x1="504.74" y1="228.3" x2="504.74" y2="234.3" stroke="#8a8f8a" stroke-width="0.8"/>
<line x1="506.21" y1="216.7" x2="506.21" y2="231.0" stroke="#8a8f8a" stroke-width="0.8"/>
<line x1="507.68" y1="214.9" x2="507.68" y2="218.8" stroke="#8a8f8a" stroke-width="0.8"/>
<line x1="509.15" y1="213.9" x2="509.15" y2="217.0" stroke="#8a8f8a" stroke-width="0.8"/>
<line x1="510.62" y1="212.4" x2="510.62" y2="217.6" stroke="#8a8f8a" stroke-width="0.8"/>
<line x1="512.09" y1="211.1" x2="512.09" y2="215.5" stroke="#8a8f8a" stroke-width="0.8"/>
<line x1="513.56" y1="209.9" x2="513.56" y2="213.7" stroke="#8a8f8a" stroke-width="0.8"/>
<line x1="515.03" y1="210.6" x2="515.03" y2="212.7" stroke="#8a8f8a" stroke-width="0.8"/>
<line x1="516.50" y1="209.9" x2="516.50" y2="212.7" stroke="#8a8f8a" stroke-width="0.8"/>
<line x1="517.97" y1="211.4" x2="517.97" y2="220.3" stroke="#8a8f8a" stroke-width="0.8"/>
<line x1="519.44" y1="217.1" x2="519.44" y2="220.9" stroke="#8a8f8a" stroke-width="0.8"/>
<line x1="520.91" y1="214.8" x2="520.91" y2="222.5" stroke="#8a8f8a" stroke-width="0.8"/>
<line x1="522.38" y1="215.6" x2="522.38" y2="218.2" stroke="#8a8f8a" stroke-width="0.8"/>
<line x1="523.85" y1="212.8" x2="523.85" y2="216.4" stroke="#8a8f8a" stroke-width="0.8"/>
<line x1="525.32" y1="211.9" x2="525.32" y2="214.8" stroke="#8a8f8a" stroke-width="0.8"/>
<line x1="526.79" y1="211.4" x2="526.79" y2="214.7" stroke="#8a8f8a" stroke-width="0.8"/>
<line x1="528.26" y1="210.6" x2="528.26" y2="212.0" stroke="#8a8f8a" stroke-width="0.8"/>
<line x1="529.73" y1="209.7" x2="529.73" y2="212.2" stroke="#8a8f8a" stroke-width="0.8"/>
<line x1="531.20" y1="209.8" x2="531.20" y2="213.7" stroke="#8a8f8a" stroke-width="0.8"/>
<line x1="532.67" y1="211.8" x2="532.67" y2="214.9" stroke="#8a8f8a" stroke-width="0.8"/>
<line x1="534.14" y1="212.8" x2="534.14" y2="214.9" stroke="#8a8f8a" stroke-width="0.8"/>
<line x1="535.61" y1="210.9" x2="535.61" y2="215.4" stroke="#8a8f8a" stroke-width="0.8"/>
<line x1="537.08" y1="211.5" x2="537.08" y2="213.8" stroke="#8a8f8a" stroke-width="0.8"/>
<line x1="538.55" y1="207.2" x2="538.55" y2="212.0" stroke="#8a8f8a" stroke-width="0.8"/>
<line x1="540.02" y1="207.1" x2="540.02" y2="210.5" stroke="#8a8f8a" stroke-width="0.8"/>
<line x1="541.49" y1="205.1" x2="541.49" y2="209.0" stroke="#8a8f8a" stroke-width="0.8"/>
<line x1="542.96" y1="206.7" x2="542.96" y2="208.2" stroke="#8a8f8a" stroke-width="0.8"/>
<line x1="544.43" y1="207.0" x2="544.43" y2="209.1" stroke="#8a8f8a" stroke-width="0.8"/>
<line x1="545.90" y1="207.4" x2="545.90" y2="208.5" stroke="#8a8f8a" stroke-width="0.8"/>
<line x1="547.37" y1="206.8" x2="547.37" y2="209.9" stroke="#8a8f8a" stroke-width="0.8"/>
<line x1="548.84" y1="182.1" x2="548.84" y2="210.6" stroke="#8a8f8a" stroke-width="0.8"/>
<line x1="550.31" y1="181.3" x2="550.31" y2="184.0" stroke="#8a8f8a" stroke-width="0.8"/>
<line x1="551.78" y1="180.9" x2="551.78" y2="182.2" stroke="#8a8f8a" stroke-width="0.8"/>
<line x1="553.25" y1="177.7" x2="553.25" y2="183.2" stroke="#8a8f8a" stroke-width="0.8"/>
<line x1="554.72" y1="169.9" x2="554.72" y2="179.9" stroke="#8a8f8a" stroke-width="0.8"/>
<line x1="556.19" y1="169.1" x2="556.19" y2="172.5" stroke="#8a8f8a" stroke-width="0.8"/>
<line x1="557.66" y1="167.0" x2="557.66" y2="169.8" stroke="#8a8f8a" stroke-width="0.8"/>
<line x1="559.13" y1="165.3" x2="559.13" y2="169.6" stroke="#8a8f8a" stroke-width="0.8"/>
<line x1="560.60" y1="164.9" x2="560.60" y2="168.6" stroke="#8a8f8a" stroke-width="0.8"/>
<line x1="562.07" y1="163.0" x2="562.07" y2="167.0" stroke="#8a8f8a" stroke-width="0.8"/>
<line x1="563.54" y1="162.6" x2="563.54" y2="164.6" stroke="#8a8f8a" stroke-width="0.8"/>
<line x1="565.01" y1="161.5" x2="565.01" y2="164.0" stroke="#8a8f8a" stroke-width="0.8"/>
<line x1="566.48" y1="160.7" x2="566.48" y2="162.6" stroke="#8a8f8a" stroke-width="0.8"/>
<line x1="567.95" y1="159.6" x2="567.95" y2="165.0" stroke="#8a8f8a" stroke-width="0.8"/>
<line x1="569.42" y1="157.8" x2="569.42" y2="162.2" stroke="#8a8f8a" stroke-width="0.8"/>
<line x1="570.89" y1="157.4" x2="570.89" y2="162.0" stroke="#8a8f8a" stroke-width="0.8"/>
<line x1="572.36" y1="156.9" x2="572.36" y2="160.4" stroke="#8a8f8a" stroke-width="0.8"/>
<line x1="573.83" y1="156.2" x2="573.83" y2="160.3" stroke="#8a8f8a" stroke-width="0.8"/>
<line x1="575.30" y1="158.9" x2="575.30" y2="162.8" stroke="#8a8f8a" stroke-width="0.8"/>
<line x1="576.77" y1="139.8" x2="576.77" y2="162.2" stroke="#8a8f8a" stroke-width="0.8"/>
<line x1="578.24" y1="106.7" x2="578.24" y2="141.1" stroke="#8a8f8a" stroke-width="0.8"/>
<line x1="579.71" y1="106.9" x2="579.71" y2="110.3" stroke="#8a8f8a" stroke-width="0.8"/>
<line x1="581.18" y1="107.6" x2="581.18" y2="110.6" stroke="#8a8f8a" stroke-width="0.8"/>
<line x1="582.65" y1="106.2" x2="582.65" y2="108.7" stroke="#8a8f8a" stroke-width="0.8"/>
<line x1="584.12" y1="105.3" x2="584.12" y2="123.8" stroke="#8a8f8a" stroke-width="0.8"/>
<line x1="585.59" y1="120.4" x2="585.59" y2="123.5" stroke="#8a8f8a" stroke-width="0.8"/>
<line x1="587.06" y1="118.5" x2="587.06" y2="124.7" stroke="#8a8f8a" stroke-width="0.8"/>
<line x1="588.53" y1="117.1" x2="588.53" y2="125.0" stroke="#8a8f8a" stroke-width="0.8"/>
<line x1="590.00" y1="123.4" x2="590.00" y2="126.9" stroke="#8a8f8a" stroke-width="0.8"/>
<line x1="591.47" y1="126.5" x2="591.47" y2="130.9" stroke="#8a8f8a" stroke-width="0.8"/>
<line x1="592.94" y1="129.4" x2="592.94" y2="132.6" stroke="#8a8f8a" stroke-width="0.8"/>
<line x1="594.41" y1="128.1" x2="594.41" y2="131.2" stroke="#8a8f8a" stroke-width="0.8"/>
<line x1="595.88" y1="125.5" x2="595.88" y2="130.1" stroke="#8a8f8a" stroke-width="0.8"/>
<line x1="597.35" y1="126.1" x2="597.35" y2="128.7" stroke="#8a8f8a" stroke-width="0.8"/>
<line x1="598.82" y1="124.3" x2="598.82" y2="127.9" stroke="#8a8f8a" stroke-width="0.8"/>
<line x1="600.29" y1="123.5" x2="600.29" y2="125.9" stroke="#8a8f8a" stroke-width="0.8"/>
<line x1="601.76" y1="122.5" x2="601.76" y2="126.4" stroke="#8a8f8a" stroke-width="0.8"/>
<line x1="603.23" y1="124.8" x2="603.23" y2="127.2" stroke="#8a8f8a" stroke-width="0.8"/>
<line x1="604.70" y1="126.5" x2="604.70" y2="128.7" stroke="#8a8f8a" stroke-width="0.8"/>
<line x1="606.17" y1="126.5" x2="606.17" y2="133.3" stroke="#8a8f8a" stroke-width="0.8"/>
<line x1="607.64" y1="124.3" x2="607.64" y2="134.3" stroke="#8a8f8a" stroke-width="0.8"/>
<line x1="609.11" y1="125.3" x2="609.11" y2="126.9" stroke="#8a8f8a" stroke-width="0.8"/>
<line x1="610.58" y1="125.2" x2="610.58" y2="126.8" stroke="#8a8f8a" stroke-width="0.8"/>
<line x1="612.05" y1="122.7" x2="612.05" y2="125.9" stroke="#8a8f8a" stroke-width="0.8"/>
<line x1="613.52" y1="124.3" x2="613.52" y2="132.0" stroke="#8a8f8a" stroke-width="0.8"/>
<line x1="614.99" y1="131.7" x2="614.99" y2="140.1" stroke="#8a8f8a" stroke-width="0.8"/>
<line x1="616.46" y1="136.1" x2="616.46" y2="139.3" stroke="#8a8f8a" stroke-width="0.8"/>
<line x1="617.93" y1="135.3" x2="617.93" y2="138.7" stroke="#8a8f8a" stroke-width="0.8"/>
<line x1="619.40" y1="133.4" x2="619.40" y2="139.2" stroke="#8a8f8a" stroke-width="0.8"/>
<line x1="620.87" y1="132.3" x2="620.87" y2="134.8" stroke="#8a8f8a" stroke-width="0.8"/>
<line x1="622.34" y1="128.7" x2="622.34" y2="134.9" stroke="#8a8f8a" stroke-width="0.8"/>
<line x1="623.81" y1="128.2" x2="623.81" y2="131.1" stroke="#8a8f8a" stroke-width="0.8"/>
<line x1="625.28" y1="126.0" x2="625.28" y2="131.2" stroke="#8a8f8a" stroke-width="0.8"/>
<line x1="626.75" y1="122.4" x2="626.75" y2="128.1" stroke="#8a8f8a" stroke-width="0.8"/>
<line x1="628.22" y1="120.7" x2="628.22" y2="124.7" stroke="#8a8f8a" stroke-width="0.8"/>
<line x1="629.69" y1="122.2" x2="629.69" y2="125.0" stroke="#8a8f8a" stroke-width="0.8"/>
<line x1="631.16" y1="122.6" x2="631.16" y2="124.4" stroke="#8a8f8a" stroke-width="0.8"/>
<line x1="632.63" y1="122.5" x2="632.63" y2="128.3" stroke="#8a8f8a" stroke-width="0.8"/>
<line x1="311.5" y1="255.0" x2="311.5" y2="274.0" stroke="#7a7f7a" stroke-width="0.9"/>
<line x1="316.0" y1="270.0" x2="316.0" y2="281.0" stroke="#7a7f7a" stroke-width="0.9"/>
<line x1="340.3" y1="267.6" x2="340.3" y2="296.5" stroke="#7a7f7a" stroke-width="0.9"/>
<line x1="346.3" y1="277.6" x2="346.3" y2="295.2" stroke="#7a7f7a" stroke-width="0.9"/>
<line x1="370.2" y1="260.0" x2="370.2" y2="278.9" stroke="#7a7f7a" stroke-width="0.9"/>
<line x1="377.5" y1="296.5" x2="377.5" y2="309.0" stroke="#7a7f7a" stroke-width="0.9"/>
<line x1="391.2" y1="296.5" x2="391.2" y2="304.6" stroke="#7a7f7a" stroke-width="0.9"/>
<line x1="399.3" y1="279.5" x2="399.3" y2="301.5" stroke="#7a7f7a" stroke-width="0.9"/>
<line x1="408.9" y1="292.7" x2="408.9" y2="300.2" stroke="#7a7f7a" stroke-width="0.9"/>
<line x1="421.1" y1="282.6" x2="421.1" y2="287.7" stroke="#7a7f7a" stroke-width="0.9"/>
<line x1="428.0" y1="295.2" x2="428.0" y2="302.7" stroke="#7a7f7a" stroke-width="0.9"/>
<line x1="405.4" y1="285.2" x2="405.4" y2="296.5" stroke="#7a7f7a" stroke-width="0.9"/>
<line x1="18.8" y1="255.3" x2="18.8" y2="262.2" stroke="#7a7f7a" stroke-width="0.9"/>
<line x1="23.2" y1="255.3" x2="23.2" y2="262.8" stroke="#7a7f7a" stroke-width="0.9"/>
<line x1="76.6" y1="232.0" x2="76.6" y2="257.8" stroke="#7a7f7a" stroke-width="0.9"/>
<line x1="81.4" y1="233.9" x2="81.4" y2="257.8" stroke="#7a7f7a" stroke-width="0.9"/>
<line x1="96.1" y1="254.0" x2="96.1" y2="259.0" stroke="#7a7f7a" stroke-width="0.9"/>
<line x1="46.5" y1="240.8" x2="46.5" y2="246.5" stroke="#7a7f7a" stroke-width="0.9"/>
<line x1="49.6" y1="260.3" x2="49.6" y2="267.8" stroke="#7a7f7a" stroke-width="0.9"/>
<line x1="105.3" y1="240.1" x2="105.3" y2="254.5" stroke="#7a7f7a" stroke-width="0.9"/>
<line x1="111.3" y1="258.3" x2="111.3" y2="262.7" stroke="#7a7f7a" stroke-width="0.9"/>
<line x1="164.1" y1="257.7" x2="164.1" y2="270.2" stroke="#7a7f7a" stroke-width="0.9"/>
<line x1="168.8" y1="271.5" x2="168.8" y2="277.1" stroke="#7a7f7a" stroke-width="0.9"/>
<line x1="169.8" y1="236.9" x2="169.8" y2="242.6" stroke="#7a7f7a" stroke-width="0.9"/>
<line x1="176.9" y1="258.3" x2="176.9" y2="262.7" stroke="#7a7f7a" stroke-width="0.9"/>
<line x1="182.9" y1="249.5" x2="182.9" y2="253.3" stroke="#7a7f7a" stroke-width="0.9"/>
<line x1="193.8" y1="226.3" x2="193.8" y2="232.5" stroke="#7a7f7a" stroke-width="0.9"/>
<line x1="199.2" y1="236.3" x2="199.2" y2="243.8" stroke="#7a7f7a" stroke-width="0.9"/>
<line x1="134.5" y1="283.4" x2="134.5" y2="293.4" stroke="#7a7f7a" stroke-width="0.9"/>
<line x1="136.4" y1="284.6" x2="136.4" y2="292.8" stroke="#7a7f7a" stroke-width="0.9"/>
<line x1="140.5" y1="270.2" x2="140.5" y2="278.3" stroke="#7a7f7a" stroke-width="0.9"/>
<line x1="140.8" y1="282.1" x2="140.8" y2="286.5" stroke="#7a7f7a" stroke-width="0.9"/>
<line x1="143.3" y1="280.8" x2="143.3" y2="285.9" stroke="#7a7f7a" stroke-width="0.9"/>
<line x1="154.6" y1="289.0" x2="154.6" y2="296.5" stroke="#7a7f7a" stroke-width="0.9"/>
<line x1="222.8" y1="221.3" x2="222.8" y2="252.7" stroke="#7a7f7a" stroke-width="0.9"/>
<line x1="215.9" y1="247.7" x2="215.9" y2="252.1" stroke="#7a7f7a" stroke-width="0.9"/>
<line x1="251.7" y1="249.0" x2="251.7" y2="256.5" stroke="#7a7f7a" stroke-width="0.9"/>
<line x1="253.0" y1="232.0" x2="253.0" y2="238.9" stroke="#7a7f7a" stroke-width="0.9"/>
<line x1="258.6" y1="213.8" x2="258.6" y2="221.3" stroke="#7a7f7a" stroke-width="0.9"/>
<line x1="281.3" y1="221.3" x2="281.3" y2="232.6" stroke="#7a7f7a" stroke-width="0.9"/>
<line x1="284.4" y1="247.7" x2="284.4" y2="254.6" stroke="#7a7f7a" stroke-width="0.9"/>
<line x1="270.0" y1="230.1" x2="270.0" y2="233.9" stroke="#7a7f7a" stroke-width="0.9"/>
<line x1="271.8" y1="235.2" x2="271.8" y2="240.2" stroke="#7a7f7a" stroke-width="0.9"/>
<line x1="241.7" y1="243.3" x2="241.7" y2="247.7" stroke="#7a7f7a" stroke-width="0.9"/>
<line x1="435.0" y1="265.8" x2="435.0" y2="275.3" stroke="#7a7f7a" stroke-width="0.9"/>
<line x1="458.6" y1="259.5" x2="458.6" y2="269.0" stroke="#7a7f7a" stroke-width="0.9"/>
<line x1="467.7" y1="247.0" x2="467.7" y2="251.4" stroke="#7a7f7a" stroke-width="0.9"/>
<line x1="477.1" y1="239.4" x2="477.1" y2="242.6" stroke="#7a7f7a" stroke-width="0.9"/>
<line x1="480.9" y1="267.7" x2="480.9" y2="272.1" stroke="#7a7f7a" stroke-width="0.9"/>
<line x1="487.8" y1="241.3" x2="487.8" y2="260.8" stroke="#7a7f7a" stroke-width="0.9"/>
<line x1="496.6" y1="236.3" x2="496.6" y2="242.0" stroke="#7a7f7a" stroke-width="0.9"/>
<line x1="506.6" y1="209.6" x2="506.6" y2="215.2" stroke="#7a7f7a" stroke-width="0.9"/>
<line x1="516.4" y1="203.9" x2="516.4" y2="211.5" stroke="#7a7f7a" stroke-width="0.9"/>
<line x1="518.3" y1="219.0" x2="518.3" y2="226.5" stroke="#7a7f7a" stroke-width="0.9"/>
<line x1="523.3" y1="205.2" x2="523.3" y2="222.8" stroke="#7a7f7a" stroke-width="0.9"/>
<line x1="547.2" y1="216.5" x2="547.2" y2="226.5" stroke="#7a7f7a" stroke-width="0.9"/>
<line x1="549.1" y1="178.8" x2="549.1" y2="183.8" stroke="#7a7f7a" stroke-width="0.9"/>
<line x1="552.2" y1="180.7" x2="552.2" y2="188.2" stroke="#7a7f7a" stroke-width="0.9"/>
<line x1="582.1" y1="90.0" x2="582.1" y2="107.0" stroke="#7a7f7a" stroke-width="0.9"/>
<line x1="585.9" y1="122.7" x2="585.9" y2="129.0" stroke="#7a7f7a" stroke-width="0.9"/>
<line x1="591.2" y1="130.2" x2="591.2" y2="136.5" stroke="#7a7f7a" stroke-width="0.9"/>
<line x1="596.2" y1="126.5" x2="596.2" y2="132.1" stroke="#7a7f7a" stroke-width="0.9"/>
<line x1="606.0" y1="134.0" x2="606.0" y2="140.3" stroke="#7a7f7a" stroke-width="0.9"/>
<line x1="606.9" y1="119.5" x2="606.9" y2="122.7" stroke="#7a7f7a" stroke-width="0.9"/>
<line x1="611.3" y1="121.4" x2="611.3" y2="126.5" stroke="#7a7f7a" stroke-width="0.9"/>
<line x1="617.6" y1="136.5" x2="617.6" y2="140.3" stroke="#7a7f7a" stroke-width="0.9"/>
<line x1="2.00" y1="238.1" x2="2.00" y2="238.9" stroke="#1a1a1a" stroke-width="0.9"/>
<line x1="3.47" y1="238.3" x2="3.47" y2="239.1" stroke="#1a1a1a" stroke-width="0.9"/>
<line x1="4.94" y1="239.1" x2="4.94" y2="240.5" stroke="#1a1a1a" stroke-width="0.9"/>
<line x1="6.41" y1="238.3" x2="6.41" y2="240.5" stroke="#1a1a1a" stroke-width="0.9"/>
<line x1="7.88" y1="232.8" x2="7.88" y2="238.3" stroke="#1a1a1a" stroke-width="0.9"/>
<line x1="9.35" y1="228.5" x2="9.35" y2="232.8" stroke="#1a1a1a" stroke-width="0.9"/>
<line x1="10.82" y1="225.2" x2="10.82" y2="228.5" stroke="#1a1a1a" stroke-width="0.9"/>
<line x1="12.29" y1="222.5" x2="12.29" y2="225.2" stroke="#1a1a1a" stroke-width="0.9"/>
<line x1="13.76" y1="222.5" x2="13.76" y2="223.4" stroke="#1a1a1a" stroke-width="0.9"/>
<line x1="15.23" y1="223.4" x2="15.23" y2="224.7" stroke="#1a1a1a" stroke-width="0.9"/>
<line x1="16.70" y1="224.7" x2="16.70" y2="228.3" stroke="#1a1a1a" stroke-width="0.9"/>
<line x1="18.17" y1="228.3" x2="18.17" y2="247.8" stroke="#1a1a1a" stroke-width="0.9"/>
<line x1="19.64" y1="247.8" x2="19.64" y2="255.9" stroke="#1a1a1a" stroke-width="0.9"/>
<line x1="21.11" y1="255.5" x2="21.11" y2="256.3" stroke="#1a1a1a" stroke-width="0.9"/>
<line x1="22.58" y1="255.5" x2="22.58" y2="256.3" stroke="#1a1a1a" stroke-width="0.9"/>
<line x1="24.05" y1="252.5" x2="24.05" y2="255.8" stroke="#1a1a1a" stroke-width="0.9"/>
<line x1="25.52" y1="249.4" x2="25.52" y2="252.5" stroke="#1a1a1a" stroke-width="0.9"/>
<line x1="26.99" y1="248.5" x2="26.99" y2="249.4" stroke="#1a1a1a" stroke-width="0.9"/>
<line x1="28.46" y1="248.2" x2="28.46" y2="249.0" stroke="#1a1a1a" stroke-width="0.9"/>
<line x1="29.93" y1="248.7" x2="29.93" y2="249.5" stroke="#1a1a1a" stroke-width="0.9"/>
<line x1="31.40" y1="249.4" x2="31.40" y2="250.6" stroke="#1a1a1a" stroke-width="0.9"/>
<line x1="32.87" y1="250.4" x2="32.87" y2="251.2" stroke="#1a1a1a" stroke-width="0.9"/>
<line x1="34.34" y1="250.6" x2="34.34" y2="251.4" stroke="#1a1a1a" stroke-width="0.9"/>
<line x1="35.81" y1="249.6" x2="35.81" y2="251.1" stroke="#1a1a1a" stroke-width="0.9"/>
<line x1="37.28" y1="247.4" x2="37.28" y2="249.6" stroke="#1a1a1a" stroke-width="0.9"/>
<line x1="38.75" y1="244.0" x2="38.75" y2="247.4" stroke="#1a1a1a" stroke-width="0.9"/>
<line x1="40.22" y1="242.2" x2="40.22" y2="244.0" stroke="#1a1a1a" stroke-width="0.9"/>
<line x1="41.69" y1="242.2" x2="41.69" y2="243.3" stroke="#1a1a1a" stroke-width="0.9"/>
<line x1="43.16" y1="243.3" x2="43.16" y2="244.4" stroke="#1a1a1a" stroke-width="0.9"/>
<line x1="44.63" y1="244.4" x2="44.63" y2="246.0" stroke="#1a1a1a" stroke-width="0.9"/>
<line x1="46.10" y1="243.2" x2="46.10" y2="246.0" stroke="#1a1a1a" stroke-width="0.9"/>
<line x1="47.57" y1="243.2" x2="47.57" y2="261.8" stroke="#1a1a1a" stroke-width="0.9"/>
<line x1="49.04" y1="261.1" x2="49.04" y2="261.9" stroke="#1a1a1a" stroke-width="0.9"/>
<line x1="50.51" y1="261.1" x2="50.51" y2="261.9" stroke="#1a1a1a" stroke-width="0.9"/>
<line x1="51.98" y1="258.8" x2="51.98" y2="261.7" stroke="#1a1a1a" stroke-width="0.9"/>
<line x1="53.45" y1="254.2" x2="53.45" y2="258.8" stroke="#1a1a1a" stroke-width="0.9"/>
<line x1="54.92" y1="254.2" x2="54.92" y2="255.9" stroke="#1a1a1a" stroke-width="0.9"/>
<line x1="56.39" y1="255.6" x2="56.39" y2="256.4" stroke="#1a1a1a" stroke-width="0.9"/>
<line x1="57.86" y1="255.1" x2="57.86" y2="256.2" stroke="#1a1a1a" stroke-width="0.9"/>
<line x1="59.33" y1="254.2" x2="59.33" y2="255.1" stroke="#1a1a1a" stroke-width="0.9"/>
<line x1="60.80" y1="252.6" x2="60.80" y2="254.2" stroke="#1a1a1a" stroke-width="0.9"/>
<line x1="62.27" y1="252.0" x2="62.27" y2="252.8" stroke="#1a1a1a" stroke-width="0.9"/>
<line x1="63.74" y1="249.1" x2="63.74" y2="252.2" stroke="#1a1a1a" stroke-width="0.9"/>
<line x1="65.21" y1="246.8" x2="65.21" y2="249.1" stroke="#1a1a1a" stroke-width="0.9"/>
<line x1="66.68" y1="245.1" x2="66.68" y2="246.8" stroke="#1a1a1a" stroke-width="0.9"/>
<line x1="68.15" y1="245.1" x2="68.15" y2="247.0" stroke="#1a1a1a" stroke-width="0.9"/>
<line x1="69.62" y1="246.9" x2="69.62" y2="247.7" stroke="#1a1a1a" stroke-width="0.9"/>
<line x1="71.09" y1="247.4" x2="71.09" y2="248.2" stroke="#1a1a1a" stroke-width="0.9"/>
<line x1="72.56" y1="247.6" x2="72.56" y2="248.4" stroke="#1a1a1a" stroke-width="0.9"/>
<line x1="74.03" y1="245.2" x2="74.03" y2="248.0" stroke="#1a1a1a" stroke-width="0.9"/>
<line x1="75.50" y1="241.6" x2="75.50" y2="245.2" stroke="#1a1a1a" stroke-width="0.9"/>
<line x1="76.97" y1="237.9" x2="76.97" y2="241.6" stroke="#1a1a1a" stroke-width="0.9"/>
<line x1="78.44" y1="237.5" x2="78.44" y2="238.3" stroke="#1a1a1a" stroke-width="0.9"/>
<line x1="79.91" y1="237.8" x2="79.91" y2="239.9" stroke="#1a1a1a" stroke-width="0.9"/>
<line x1="81.38" y1="239.8" x2="81.38" y2="240.6" stroke="#1a1a1a" stroke-width="0.9"/>
<line x1="82.85" y1="240.5" x2="82.85" y2="244.3" stroke="#1a1a1a" stroke-width="0.9"/>
<line x1="84.32" y1="243.9" x2="84.32" y2="244.7" stroke="#1a1a1a" stroke-width="0.9"/>
<line x1="85.79" y1="244.3" x2="85.79" y2="246.2" stroke="#1a1a1a" stroke-width="0.9"/>
<line x1="87.26" y1="245.8" x2="87.26" y2="246.6" stroke="#1a1a1a" stroke-width="0.9"/>
<line x1="88.73" y1="245.8" x2="88.73" y2="246.6" stroke="#1a1a1a" stroke-width="0.9"/>
<line x1="90.20" y1="245.8" x2="90.20" y2="246.6" stroke="#1a1a1a" stroke-width="0.9"/>
<line x1="91.67" y1="246.1" x2="91.67" y2="247.7" stroke="#1a1a1a" stroke-width="0.9"/>
<line x1="93.14" y1="247.6" x2="93.14" y2="248.4" stroke="#1a1a1a" stroke-width="0.9"/>
<line x1="94.61" y1="248.4" x2="94.61" y2="252.8" stroke="#1a1a1a" stroke-width="0.9"/>
<line x1="96.08" y1="252.8" x2="96.08" y2="255.3" stroke="#1a1a1a" stroke-width="0.9"/>
<line x1="97.55" y1="254.2" x2="97.55" y2="255.3" stroke="#1a1a1a" stroke-width="0.9"/>
<line x1="99.02" y1="252.5" x2="99.02" y2="254.2" stroke="#1a1a1a" stroke-width="0.9"/>
<line x1="100.49" y1="251.7" x2="100.49" y2="252.5" stroke="#1a1a1a" stroke-width="0.9"/>
<line x1="101.96" y1="251.3" x2="101.96" y2="252.1" stroke="#1a1a1a" stroke-width="0.9"/>
<line x1="103.43" y1="250.7" x2="103.43" y2="251.6" stroke="#1a1a1a" stroke-width="0.9"/>
<line x1="104.90" y1="250.3" x2="104.90" y2="251.1" stroke="#1a1a1a" stroke-width="0.9"/>
<line x1="106.37" y1="250.8" x2="106.37" y2="254.0" stroke="#1a1a1a" stroke-width="0.9"/>
<line x1="107.84" y1="254.0" x2="107.84" y2="255.1" stroke="#1a1a1a" stroke-width="0.9"/>
<line x1="109.31" y1="255.1" x2="109.31" y2="258.7" stroke="#1a1a1a" stroke-width="0.9"/>
<line x1="110.78" y1="258.7" x2="110.78" y2="260.0" stroke="#1a1a1a" stroke-width="0.9"/>
<line x1="112.25" y1="257.3" x2="112.25" y2="260.0" stroke="#1a1a1a" stroke-width="0.9"/>
<line x1="113.72" y1="257.0" x2="113.72" y2="257.8" stroke="#1a1a1a" stroke-width="0.9"/>
<line x1="115.19" y1="257.3" x2="115.19" y2="258.1" stroke="#1a1a1a" stroke-width="0.9"/>
<line x1="116.66" y1="257.7" x2="116.66" y2="258.5" stroke="#1a1a1a" stroke-width="0.9"/>
<line x1="118.13" y1="257.7" x2="118.13" y2="258.5" stroke="#1a1a1a" stroke-width="0.9"/>
<line x1="119.60" y1="257.2" x2="119.60" y2="258.0" stroke="#1a1a1a" stroke-width="0.9"/>
<line x1="121.07" y1="257.4" x2="121.07" y2="258.2" stroke="#1a1a1a" stroke-width="0.9"/>
<line x1="122.54" y1="257.2" x2="122.54" y2="258.2" stroke="#1a1a1a" stroke-width="0.9"/>
<line x1="124.01" y1="257.2" x2="124.01" y2="259.2" stroke="#1a1a1a" stroke-width="0.9"/>
<line x1="125.48" y1="259.2" x2="125.48" y2="260.2" stroke="#1a1a1a" stroke-width="0.9"/>
<line x1="126.95" y1="260.2" x2="126.95" y2="261.1" stroke="#1a1a1a" stroke-width="0.9"/>
<line x1="128.42" y1="261.1" x2="128.42" y2="261.9" stroke="#1a1a1a" stroke-width="0.9"/>
<line x1="129.89" y1="261.9" x2="129.89" y2="263.0" stroke="#1a1a1a" stroke-width="0.9"/>
<line x1="131.36" y1="262.8" x2="131.36" y2="263.6" stroke="#1a1a1a" stroke-width="0.9"/>
<line x1="132.83" y1="262.6" x2="132.83" y2="263.4" stroke="#1a1a1a" stroke-width="0.9"/>
<line x1="134.30" y1="262.7" x2="134.30" y2="266.3" stroke="#1a1a1a" stroke-width="0.9"/>
<line x1="135.77" y1="266.3" x2="135.77" y2="285.5" stroke="#1a1a1a" stroke-width="0.9"/>
<line x1="137.24" y1="280.2" x2="137.24" y2="285.5" stroke="#1a1a1a" stroke-width="0.9"/>
<line x1="138.71" y1="277.9" x2="138.71" y2="280.2" stroke="#1a1a1a" stroke-width="0.9"/>
<line x1="140.18" y1="275.3" x2="140.18" y2="277.9" stroke="#1a1a1a" stroke-width="0.9"/>
<line x1="141.65" y1="275.3" x2="141.65" y2="283.6" stroke="#1a1a1a" stroke-width="0.9"/>
<line x1="143.12" y1="282.3" x2="143.12" y2="283.6" stroke="#1a1a1a" stroke-width="0.9"/>
<line x1="144.59" y1="279.3" x2="144.59" y2="282.3" stroke="#1a1a1a" stroke-width="0.9"/>
<line x1="146.06" y1="278.8" x2="146.06" y2="279.6" stroke="#1a1a1a" stroke-width="0.9"/>
<line x1="147.53" y1="279.0" x2="147.53" y2="281.8" stroke="#1a1a1a" stroke-width="0.9"/>
<line x1="149.00" y1="281.8" x2="149.00" y2="283.4" stroke="#1a1a1a" stroke-width="0.9"/>
<line x1="150.47" y1="283.4" x2="150.47" y2="284.8" stroke="#1a1a1a" stroke-width="0.9"/>
<line x1="151.94" y1="284.8" x2="151.94" y2="286.1" stroke="#1a1a1a" stroke-width="0.9"/>
<line x1="153.41" y1="286.1" x2="153.41" y2="288.6" stroke="#1a1a1a" stroke-width="0.9"/>
<line x1="154.88" y1="288.6" x2="154.88" y2="290.2" stroke="#1a1a1a" stroke-width="0.9"/>
<line x1="156.35" y1="287.2" x2="156.35" y2="290.2" stroke="#1a1a1a" stroke-width="0.9"/>
<line x1="157.82" y1="286.7" x2="157.82" y2="287.5" stroke="#1a1a1a" stroke-width="0.9"/>
<line x1="159.29" y1="287.0" x2="159.29" y2="290.5" stroke="#1a1a1a" stroke-width="0.9"/>
<line x1="160.76" y1="290.5" x2="160.76" y2="292.3" stroke="#1a1a1a" stroke-width="0.9"/>
<line x1="162.23" y1="292.3" x2="162.23" y2="293.5" stroke="#1a1a1a" stroke-width="0.9"/>
<line x1="163.70" y1="293.5" x2="163.70" y2="297.8" stroke="#1a1a1a" stroke-width="0.9"/>
<line x1="165.17" y1="268.9" x2="165.17" y2="297.8" stroke="#1a1a1a" stroke-width="0.9"/>
<line x1="166.64" y1="268.9" x2="166.64" y2="270.2" stroke="#1a1a1a" stroke-width="0.9"/>
<line x1="168.11" y1="270.2" x2="168.11" y2="271.7" stroke="#1a1a1a" stroke-width="0.9"/>
<line x1="169.58" y1="248.1" x2="169.58" y2="271.7" stroke="#1a1a1a" stroke-width="0.9"/>
<line x1="171.05" y1="243.1" x2="171.05" y2="248.1" stroke="#1a1a1a" stroke-width="0.9"/>
<line x1="172.52" y1="243.1" x2="172.52" y2="245.8" stroke="#1a1a1a" stroke-width="0.9"/>
<line x1="173.99" y1="245.8" x2="173.99" y2="249.3" stroke="#1a1a1a" stroke-width="0.9"/>
<line x1="175.46" y1="249.3" x2="175.46" y2="252.1" stroke="#1a1a1a" stroke-width="0.9"/>
<line x1="176.93" y1="252.1" x2="176.93" y2="259.2" stroke="#1a1a1a" stroke-width="0.9"/>
<line x1="178.40" y1="258.5" x2="178.40" y2="259.3" stroke="#1a1a1a" stroke-width="0.9"/>
<line x1="179.87" y1="258.0" x2="179.87" y2="258.8" stroke="#1a1a1a" stroke-width="0.9"/>
<line x1="181.34" y1="257.1" x2="181.34" y2="258.1" stroke="#1a1a1a" stroke-width="0.9"/>
<line x1="182.81" y1="252.1" x2="182.81" y2="257.1" stroke="#1a1a1a" stroke-width="0.9"/>
<line x1="184.28" y1="252.1" x2="184.28" y2="254.3" stroke="#1a1a1a" stroke-width="0.9"/>
<line x1="185.75" y1="254.2" x2="185.75" y2="255.0" stroke="#1a1a1a" stroke-width="0.9"/>
<line x1="187.22" y1="254.8" x2="187.22" y2="256.8" stroke="#1a1a1a" stroke-width="0.9"/>
<line x1="188.69" y1="256.7" x2="188.69" y2="257.5" stroke="#1a1a1a" stroke-width="0.9"/>
<line x1="190.16" y1="257.4" x2="190.16" y2="258.2" stroke="#1a1a1a" stroke-width="0.9"/>
<line x1="191.63" y1="257.5" x2="191.63" y2="258.3" stroke="#1a1a1a" stroke-width="0.9"/>
<line x1="193.10" y1="256.2" x2="193.10" y2="257.6" stroke="#1a1a1a" stroke-width="0.9"/>
<line x1="194.57" y1="233.0" x2="194.57" y2="256.2" stroke="#1a1a1a" stroke-width="0.9"/>
<line x1="196.04" y1="233.0" x2="196.04" y2="234.3" stroke="#1a1a1a" stroke-width="0.9"/>
<line x1="197.51" y1="234.3" x2="197.51" y2="235.7" stroke="#1a1a1a" stroke-width="0.9"/>
<line x1="198.98" y1="235.7" x2="198.98" y2="237.0" stroke="#1a1a1a" stroke-width="0.9"/>
<line x1="200.45" y1="237.0" x2="200.45" y2="241.2" stroke="#1a1a1a" stroke-width="0.9"/>
<line x1="201.92" y1="240.6" x2="201.92" y2="241.4" stroke="#1a1a1a" stroke-width="0.9"/>
<line x1="203.39" y1="240.8" x2="203.39" y2="243.3" stroke="#1a1a1a" stroke-width="0.9"/>
<line x1="204.86" y1="243.3" x2="204.86" y2="244.8" stroke="#1a1a1a" stroke-width="0.9"/>
<line x1="206.33" y1="244.8" x2="206.33" y2="246.5" stroke="#1a1a1a" stroke-width="0.9"/>
<line x1="207.80" y1="246.4" x2="207.80" y2="247.2" stroke="#1a1a1a" stroke-width="0.9"/>
<line x1="209.27" y1="247.1" x2="209.27" y2="248.0" stroke="#1a1a1a" stroke-width="0.9"/>
<line x1="210.74" y1="246.9" x2="210.74" y2="248.0" stroke="#1a1a1a" stroke-width="0.9"/>
<line x1="212.21" y1="246.6" x2="212.21" y2="247.4" stroke="#1a1a1a" stroke-width="0.9"/>
<line x1="213.68" y1="246.7" x2="213.68" y2="247.5" stroke="#1a1a1a" stroke-width="0.9"/>
<line x1="215.15" y1="247.3" x2="215.15" y2="248.6" stroke="#1a1a1a" stroke-width="0.9"/>
<line x1="216.62" y1="248.4" x2="216.62" y2="249.2" stroke="#1a1a1a" stroke-width="0.9"/>
<line x1="218.09" y1="247.6" x2="218.09" y2="249.1" stroke="#1a1a1a" stroke-width="0.9"/>
<line x1="219.56" y1="246.6" x2="219.56" y2="247.6" stroke="#1a1a1a" stroke-width="0.9"/>
<line x1="221.03" y1="245.9" x2="221.03" y2="246.7" stroke="#1a1a1a" stroke-width="0.9"/>
<line x1="222.50" y1="242.8" x2="222.50" y2="246.0" stroke="#1a1a1a" stroke-width="0.9"/>
<line x1="223.97" y1="236.7" x2="223.97" y2="242.8" stroke="#1a1a1a" stroke-width="0.9"/>
<line x1="225.44" y1="236.4" x2="225.44" y2="237.2" stroke="#1a1a1a" stroke-width="0.9"/>
<line x1="226.91" y1="237.0" x2="226.91" y2="239.2" stroke="#1a1a1a" stroke-width="0.9"/>
<line x1="228.38" y1="239.2" x2="228.38" y2="240.7" stroke="#1a1a1a" stroke-width="0.9"/>
<line x1="229.85" y1="240.7" x2="229.85" y2="242.3" stroke="#1a1a1a" stroke-width="0.9"/>
<line x1="231.32" y1="242.3" x2="231.32" y2="243.8" stroke="#1a1a1a" stroke-width="0.9"/>
<line x1="232.79" y1="243.8" x2="232.79" y2="247.7" stroke="#1a1a1a" stroke-width="0.9"/>
<line x1="234.26" y1="247.7" x2="234.26" y2="249.0" stroke="#1a1a1a" stroke-width="0.9"/>
<line x1="235.73" y1="249.0" x2="235.73" y2="249.8" stroke="#1a1a1a" stroke-width="0.9"/>
<line x1="237.20" y1="249.2" x2="237.20" y2="250.0" stroke="#1a1a1a" stroke-width="0.9"/>
<line x1="238.67" y1="248.5" x2="238.67" y2="249.3" stroke="#1a1a1a" stroke-width="0.9"/>
<line x1="240.14" y1="248.4" x2="240.14" y2="249.2" stroke="#1a1a1a" stroke-width="0.9"/>
<line x1="241.61" y1="247.5" x2="241.61" y2="249.0" stroke="#1a1a1a" stroke-width="0.9"/>
<line x1="243.08" y1="246.9" x2="243.08" y2="247.7" stroke="#1a1a1a" stroke-width="0.9"/>
<line x1="244.55" y1="247.1" x2="244.55" y2="253.3" stroke="#1a1a1a" stroke-width="0.9"/>
<line x1="246.02" y1="252.5" x2="246.02" y2="253.3" stroke="#1a1a1a" stroke-width="0.9"/>
<line x1="247.49" y1="251.9" x2="247.49" y2="252.7" stroke="#1a1a1a" stroke-width="0.9"/>
<line x1="248.96" y1="250.8" x2="248.96" y2="252.0" stroke="#1a1a1a" stroke-width="0.9"/>
<line x1="250.43" y1="250.7" x2="250.43" y2="251.5" stroke="#1a1a1a" stroke-width="0.9"/>
<line x1="251.90" y1="249.0" x2="251.90" y2="251.3" stroke="#1a1a1a" stroke-width="0.9"/>
<line x1="253.37" y1="237.1" x2="253.37" y2="249.0" stroke="#1a1a1a" stroke-width="0.9"/>
<line x1="254.84" y1="237.1" x2="254.84" y2="239.1" stroke="#1a1a1a" stroke-width="0.9"/>
<line x1="256.31" y1="236.4" x2="256.31" y2="239.1" stroke="#1a1a1a" stroke-width="0.9"/>
<line x1="257.78" y1="234.5" x2="257.78" y2="236.4" stroke="#1a1a1a" stroke-width="0.9"/>
<line x1="259.25" y1="225.6" x2="259.25" y2="234.5" stroke="#1a1a1a" stroke-width="0.9"/>
<line x1="260.72" y1="225.6" x2="260.72" y2="230.2" stroke="#1a1a1a" stroke-width="0.9"/>
<line x1="262.19" y1="230.2" x2="262.19" y2="233.1" stroke="#1a1a1a" stroke-width="0.9"/>
<line x1="263.66" y1="233.1" x2="263.66" y2="236.3" stroke="#1a1a1a" stroke-width="0.9"/>
<line x1="265.13" y1="236.3" x2="265.13" y2="237.3" stroke="#1a1a1a" stroke-width="0.9"/>
<line x1="266.60" y1="236.9" x2="266.60" y2="237.7" stroke="#1a1a1a" stroke-width="0.9"/>
<line x1="268.07" y1="235.9" x2="268.07" y2="237.2" stroke="#1a1a1a" stroke-width="0.9"/>
<line x1="269.54" y1="232.8" x2="269.54" y2="235.9" stroke="#1a1a1a" stroke-width="0.9"/>
<line x1="271.01" y1="232.8" x2="271.01" y2="235.3" stroke="#1a1a1a" stroke-width="0.9"/>
<line x1="272.48" y1="235.3" x2="272.48" y2="237.1" stroke="#1a1a1a" stroke-width="0.9"/>
<line x1="273.95" y1="234.7" x2="273.95" y2="237.1" stroke="#1a1a1a" stroke-width="0.9"/>
<line x1="275.42" y1="234.4" x2="275.42" y2="235.2" stroke="#1a1a1a" stroke-width="0.9"/>
<line x1="276.89" y1="234.3" x2="276.89" y2="235.1" stroke="#1a1a1a" stroke-width="0.9"/>
<line x1="278.36" y1="234.0" x2="278.36" y2="234.8" stroke="#1a1a1a" stroke-width="0.9"/>
<line x1="279.83" y1="234.1" x2="279.83" y2="234.9" stroke="#1a1a1a" stroke-width="0.9"/>
<line x1="281.30" y1="232.0" x2="281.30" y2="234.7" stroke="#1a1a1a" stroke-width="0.9"/>
<line x1="282.77" y1="232.0" x2="282.77" y2="246.8" stroke="#1a1a1a" stroke-width="0.9"/>
<line x1="284.24" y1="246.8" x2="284.24" y2="248.7" stroke="#1a1a1a" stroke-width="0.9"/>
<line x1="285.71" y1="248.3" x2="285.71" y2="249.1" stroke="#1a1a1a" stroke-width="0.9"/>
<line x1="287.18" y1="247.0" x2="287.18" y2="248.6" stroke="#1a1a1a" stroke-width="0.9"/>
<line x1="288.65" y1="243.1" x2="288.65" y2="247.0" stroke="#1a1a1a" stroke-width="0.9"/>
<line x1="290.12" y1="243.1" x2="290.12" y2="244.1" stroke="#1a1a1a" stroke-width="0.9"/>
<line x1="291.59" y1="244.1" x2="291.59" y2="245.7" stroke="#1a1a1a" stroke-width="0.9"/>
<line x1="293.06" y1="245.7" x2="293.06" y2="248.9" stroke="#1a1a1a" stroke-width="0.9"/>
<line x1="294.53" y1="248.5" x2="294.53" y2="249.3" stroke="#1a1a1a" stroke-width="0.9"/>
<line x1="296.00" y1="248.7" x2="296.00" y2="249.5" stroke="#1a1a1a" stroke-width="0.9"/>
<line x1="297.47" y1="249.3" x2="297.47" y2="250.8" stroke="#1a1a1a" stroke-width="0.9"/>
<line x1="298.94" y1="250.5" x2="298.94" y2="251.3" stroke="#1a1a1a" stroke-width="0.9"/>
<line x1="300.41" y1="249.8" x2="300.41" y2="250.9" stroke="#1a1a1a" stroke-width="0.9"/>
<line x1="301.88" y1="249.8" x2="301.88" y2="250.6" stroke="#1a1a1a" stroke-width="0.9"/>
<line x1="303.35" y1="250.3" x2="303.35" y2="251.1" stroke="#1a1a1a" stroke-width="0.9"/>
<line x1="304.82" y1="250.8" x2="304.82" y2="251.8" stroke="#1a1a1a" stroke-width="0.9"/>
<line x1="306.29" y1="251.3" x2="306.29" y2="252.1" stroke="#1a1a1a" stroke-width="0.9"/>
<line x1="307.76" y1="250.8" x2="307.76" y2="251.6" stroke="#1a1a1a" stroke-width="0.9"/>
<line x1="309.23" y1="250.5" x2="309.23" y2="251.3" stroke="#1a1a1a" stroke-width="0.9"/>
<line x1="310.70" y1="255.6" x2="310.70" y2="256.4" stroke="#1a1a1a" stroke-width="0.9"/>
<line x1="312.17" y1="256.0" x2="312.17" y2="273.2" stroke="#1a1a1a" stroke-width="0.9"/>
<line x1="313.64" y1="273.2" x2="313.64" y2="276.1" stroke="#1a1a1a" stroke-width="0.9"/>
<line x1="315.11" y1="275.7" x2="315.11" y2="276.5" stroke="#1a1a1a" stroke-width="0.9"/>
<line x1="316.58" y1="276.1" x2="316.58" y2="279.2" stroke="#1a1a1a" stroke-width="0.9"/>
<line x1="318.05" y1="278.7" x2="318.05" y2="279.5" stroke="#1a1a1a" stroke-width="0.9"/>
<line x1="319.52" y1="279.1" x2="319.52" y2="282.0" stroke="#1a1a1a" stroke-width="0.9"/>
<line x1="320.99" y1="281.8" x2="320.99" y2="282.6" stroke="#1a1a1a" stroke-width="0.9"/>
<line x1="322.46" y1="282.4" x2="322.46" y2="284.2" stroke="#1a1a1a" stroke-width="0.9"/>
<line x1="323.93" y1="283.8" x2="323.93" y2="284.6" stroke="#1a1a1a" stroke-width="0.9"/>
<line x1="325.40" y1="283.5" x2="325.40" y2="284.3" stroke="#1a1a1a" stroke-width="0.9"/>
<line x1="326.87" y1="283.3" x2="326.87" y2="284.1" stroke="#1a1a1a" stroke-width="0.9"/>
<line x1="328.34" y1="283.2" x2="328.34" y2="284.0" stroke="#1a1a1a" stroke-width="0.9"/>
<line x1="329.81" y1="280.0" x2="329.81" y2="283.3" stroke="#1a1a1a" stroke-width="0.9"/>
<line x1="331.28" y1="280.0" x2="331.28" y2="286.9" stroke="#1a1a1a" stroke-width="0.9"/>
<line x1="332.75" y1="286.9" x2="332.75" y2="289.3" stroke="#1a1a1a" stroke-width="0.9"/>
<line x1="334.22" y1="289.3" x2="334.22" y2="290.2" stroke="#1a1a1a" stroke-width="0.9"/>
<line x1="335.69" y1="289.1" x2="335.69" y2="290.2" stroke="#1a1a1a" stroke-width="0.9"/>
<line x1="337.16" y1="289.1" x2="337.16" y2="290.3" stroke="#1a1a1a" stroke-width="0.9"/>
<line x1="338.63" y1="289.9" x2="338.63" y2="290.7" stroke="#1a1a1a" stroke-width="0.9"/>
<line x1="340.10" y1="275.4" x2="340.10" y2="290.3" stroke="#1a1a1a" stroke-width="0.9"/>
<line x1="341.57" y1="273.0" x2="341.57" y2="275.4" stroke="#1a1a1a" stroke-width="0.9"/>
<line x1="343.04" y1="273.0" x2="343.04" y2="274.8" stroke="#1a1a1a" stroke-width="0.9"/>
<line x1="344.51" y1="274.8" x2="344.51" y2="275.9" stroke="#1a1a1a" stroke-width="0.9"/>
<line x1="345.98" y1="275.9" x2="345.98" y2="280.7" stroke="#1a1a1a" stroke-width="0.9"/>
<line x1="347.45" y1="275.7" x2="347.45" y2="280.7" stroke="#1a1a1a" stroke-width="0.9"/>
<line x1="348.92" y1="272.9" x2="348.92" y2="275.7" stroke="#1a1a1a" stroke-width="0.9"/>
<line x1="350.39" y1="272.5" x2="350.39" y2="273.3" stroke="#1a1a1a" stroke-width="0.9"/>
<line x1="351.86" y1="273.0" x2="351.86" y2="274.3" stroke="#1a1a1a" stroke-width="0.9"/>
<line x1="353.33" y1="274.3" x2="353.33" y2="275.1" stroke="#1a1a1a" stroke-width="0.9"/>
<line x1="354.80" y1="274.8" x2="354.80" y2="275.6" stroke="#1a1a1a" stroke-width="0.9"/>
<line x1="356.27" y1="274.8" x2="356.27" y2="275.6" stroke="#1a1a1a" stroke-width="0.9"/>
<line x1="357.74" y1="275.1" x2="357.74" y2="276.8" stroke="#1a1a1a" stroke-width="0.9"/>
<line x1="359.21" y1="275.3" x2="359.21" y2="276.8" stroke="#1a1a1a" stroke-width="0.9"/>
<line x1="360.68" y1="275.3" x2="360.68" y2="282.3" stroke="#1a1a1a" stroke-width="0.9"/>
<line x1="362.15" y1="282.3" x2="362.15" y2="283.6" stroke="#1a1a1a" stroke-width="0.9"/>
<line x1="363.62" y1="283.1" x2="363.62" y2="283.9" stroke="#1a1a1a" stroke-width="0.9"/>
<line x1="365.09" y1="280.1" x2="365.09" y2="283.3" stroke="#1a1a1a" stroke-width="0.9"/>
<line x1="366.56" y1="278.9" x2="366.56" y2="280.1" stroke="#1a1a1a" stroke-width="0.9"/>
<line x1="368.03" y1="278.3" x2="368.03" y2="279.1" stroke="#1a1a1a" stroke-width="0.9"/>
<line x1="369.50" y1="278.2" x2="369.50" y2="279.0" stroke="#1a1a1a" stroke-width="0.9"/>
<line x1="370.97" y1="278.8" x2="370.97" y2="284.9" stroke="#1a1a1a" stroke-width="0.9"/>
<line x1="372.44" y1="284.9" x2="372.44" y2="290.7" stroke="#1a1a1a" stroke-width="0.9"/>
<line x1="373.91" y1="290.7" x2="373.91" y2="295.3" stroke="#1a1a1a" stroke-width="0.9"/>
<line x1="375.38" y1="295.3" x2="375.38" y2="296.7" stroke="#1a1a1a" stroke-width="0.9"/>
<line x1="376.85" y1="296.7" x2="376.85" y2="298.9" stroke="#1a1a1a" stroke-width="0.9"/>
<line x1="378.32" y1="291.3" x2="378.32" y2="298.9" stroke="#1a1a1a" stroke-width="0.9"/>
<line x1="379.79" y1="286.4" x2="379.79" y2="291.3" stroke="#1a1a1a" stroke-width="0.9"/>
<line x1="381.26" y1="286.4" x2="381.26" y2="288.9" stroke="#1a1a1a" stroke-width="0.9"/>
<line x1="382.73" y1="288.9" x2="382.73" y2="293.9" stroke="#1a1a1a" stroke-width="0.9"/>
<line x1="384.20" y1="293.9" x2="384.20" y2="295.2" stroke="#1a1a1a" stroke-width="0.9"/>
<line x1="385.67" y1="294.2" x2="385.67" y2="295.2" stroke="#1a1a1a" stroke-width="0.9"/>
<line x1="387.14" y1="291.6" x2="387.14" y2="294.2" stroke="#1a1a1a" stroke-width="0.9"/>
<line x1="388.61" y1="286.3" x2="388.61" y2="291.6" stroke="#1a1a1a" stroke-width="0.9"/>
<line x1="390.08" y1="283.9" x2="390.08" y2="286.3" stroke="#1a1a1a" stroke-width="0.9"/>
<line x1="391.55" y1="283.9" x2="391.55" y2="298.2" stroke="#1a1a1a" stroke-width="0.9"/>
<line x1="393.02" y1="295.2" x2="393.02" y2="298.2" stroke="#1a1a1a" stroke-width="0.9"/>
<line x1="394.49" y1="291.8" x2="394.49" y2="295.2" stroke="#1a1a1a" stroke-width="0.9"/>
<line x1="395.96" y1="288.9" x2="395.96" y2="291.8" stroke="#1a1a1a" stroke-width="0.9"/>
<line x1="397.43" y1="287.7" x2="397.43" y2="288.9" stroke="#1a1a1a" stroke-width="0.9"/>
<line x1="398.90" y1="286.5" x2="398.90" y2="287.7" stroke="#1a1a1a" stroke-width="0.9"/>
<line x1="400.37" y1="286.5" x2="400.37" y2="292.0" stroke="#1a1a1a" stroke-width="0.9"/>
<line x1="401.84" y1="291.6" x2="401.84" y2="292.4" stroke="#1a1a1a" stroke-width="0.9"/>
<line x1="403.31" y1="285.5" x2="403.31" y2="292.0" stroke="#1a1a1a" stroke-width="0.9"/>
<line x1="404.78" y1="285.5" x2="404.78" y2="287.3" stroke="#1a1a1a" stroke-width="0.9"/>
<line x1="406.25" y1="287.3" x2="406.25" y2="291.7" stroke="#1a1a1a" stroke-width="0.9"/>
<line x1="407.72" y1="290.5" x2="407.72" y2="291.7" stroke="#1a1a1a" stroke-width="0.9"/>
<line x1="409.19" y1="290.5" x2="409.19" y2="295.3" stroke="#1a1a1a" stroke-width="0.9"/>
<line x1="410.66" y1="293.4" x2="410.66" y2="295.3" stroke="#1a1a1a" stroke-width="0.9"/>
<line x1="412.13" y1="291.0" x2="412.13" y2="293.4" stroke="#1a1a1a" stroke-width="0.9"/>
<line x1="413.60" y1="289.5" x2="413.60" y2="291.0" stroke="#1a1a1a" stroke-width="0.9"/>
<line x1="415.07" y1="289.0" x2="415.07" y2="289.8" stroke="#1a1a1a" stroke-width="0.9"/>
<line x1="416.54" y1="288.7" x2="416.54" y2="289.5" stroke="#1a1a1a" stroke-width="0.9"/>
<line x1="418.01" y1="288.5" x2="418.01" y2="289.3" stroke="#1a1a1a" stroke-width="0.9"/>
<line x1="419.48" y1="288.0" x2="419.48" y2="288.9" stroke="#1a1a1a" stroke-width="0.9"/>
<line x1="420.95" y1="287.2" x2="420.95" y2="288.0" stroke="#1a1a1a" stroke-width="0.9"/>
<line x1="422.42" y1="287.3" x2="422.42" y2="290.1" stroke="#1a1a1a" stroke-width="0.9"/>
<line x1="423.89" y1="290.1" x2="423.89" y2="293.7" stroke="#1a1a1a" stroke-width="0.9"/>
<line x1="425.36" y1="293.7" x2="425.36" y2="295.7" stroke="#1a1a1a" stroke-width="0.9"/>
<line x1="426.83" y1="295.7" x2="426.83" y2="297.0" stroke="#1a1a1a" stroke-width="0.9"/>
<line x1="428.30" y1="292.2" x2="428.30" y2="297.0" stroke="#1a1a1a" stroke-width="0.9"/>
<line x1="429.77" y1="275.0" x2="429.77" y2="292.2" stroke="#1a1a1a" stroke-width="0.9"/>
<line x1="431.24" y1="275.0" x2="431.24" y2="276.5" stroke="#1a1a1a" stroke-width="0.9"/>
<line x1="432.71" y1="275.6" x2="432.71" y2="276.5" stroke="#1a1a1a" stroke-width="0.9"/>
<line x1="434.18" y1="273.1" x2="434.18" y2="275.6" stroke="#1a1a1a" stroke-width="0.9"/>
<line x1="435.65" y1="272.2" x2="435.65" y2="273.1" stroke="#1a1a1a" stroke-width="0.9"/>
<line x1="437.12" y1="272.2" x2="437.12" y2="276.1" stroke="#1a1a1a" stroke-width="0.9"/>
<line x1="438.59" y1="276.1" x2="438.59" y2="279.4" stroke="#1a1a1a" stroke-width="0.9"/>
<line x1="440.06" y1="279.1" x2="440.06" y2="279.9" stroke="#1a1a1a" stroke-width="0.9"/>
<line x1="441.53" y1="277.9" x2="441.53" y2="279.7" stroke="#1a1a1a" stroke-width="0.9"/>
<line x1="443.00" y1="277.9" x2="443.00" y2="279.6" stroke="#1a1a1a" stroke-width="0.9"/>
<line x1="444.47" y1="279.6" x2="444.47" y2="282.2" stroke="#1a1a1a" stroke-width="0.9"/>
<line x1="445.94" y1="282.2" x2="445.94" y2="283.1" stroke="#1a1a1a" stroke-width="0.9"/>
<line x1="447.41" y1="279.0" x2="447.41" y2="283.1" stroke="#1a1a1a" stroke-width="0.9"/>
<line x1="448.88" y1="278.2" x2="448.88" y2="279.0" stroke="#1a1a1a" stroke-width="0.9"/>
<line x1="450.35" y1="277.9" x2="450.35" y2="278.7" stroke="#1a1a1a" stroke-width="0.9"/>
<line x1="451.82" y1="275.7" x2="451.82" y2="278.3" stroke="#1a1a1a" stroke-width="0.9"/>
<line x1="453.29" y1="275.7" x2="453.29" y2="279.2" stroke="#1a1a1a" stroke-width="0.9"/>
<line x1="454.76" y1="279.1" x2="454.76" y2="279.9" stroke="#1a1a1a" stroke-width="0.9"/>
<line x1="456.23" y1="279.7" x2="456.23" y2="280.6" stroke="#1a1a1a" stroke-width="0.9"/>
<line x1="457.70" y1="279.4" x2="457.70" y2="280.6" stroke="#1a1a1a" stroke-width="0.9"/>
<line x1="459.17" y1="272.6" x2="459.17" y2="279.4" stroke="#1a1a1a" stroke-width="0.9"/>
<line x1="460.64" y1="272.6" x2="460.64" y2="276.1" stroke="#1a1a1a" stroke-width="0.9"/>
<line x1="462.11" y1="265.2" x2="462.11" y2="276.1" stroke="#1a1a1a" stroke-width="0.9"/>
<line x1="463.58" y1="257.4" x2="463.58" y2="265.2" stroke="#1a1a1a" stroke-width="0.9"/>
<line x1="465.05" y1="251.4" x2="465.05" y2="257.4" stroke="#1a1a1a" stroke-width="0.9"/>
<line x1="466.52" y1="250.4" x2="466.52" y2="251.4" stroke="#1a1a1a" stroke-width="0.9"/>
<line x1="467.99" y1="249.8" x2="467.99" y2="250.6" stroke="#1a1a1a" stroke-width="0.9"/>
<line x1="469.46" y1="250.1" x2="469.46" y2="253.7" stroke="#1a1a1a" stroke-width="0.9"/>
<line x1="470.93" y1="253.7" x2="470.93" y2="256.1" stroke="#1a1a1a" stroke-width="0.9"/>
<line x1="472.40" y1="256.1" x2="472.40" y2="257.7" stroke="#1a1a1a" stroke-width="0.9"/>
<line x1="473.87" y1="254.7" x2="473.87" y2="257.7" stroke="#1a1a1a" stroke-width="0.9"/>
<line x1="475.34" y1="248.5" x2="475.34" y2="254.7" stroke="#1a1a1a" stroke-width="0.9"/>
<line x1="476.81" y1="242.1" x2="476.81" y2="248.5" stroke="#1a1a1a" stroke-width="0.9"/>
<line x1="478.28" y1="242.1" x2="478.28" y2="258.9" stroke="#1a1a1a" stroke-width="0.9"/>
<line x1="479.75" y1="258.9" x2="479.75" y2="268.3" stroke="#1a1a1a" stroke-width="0.9"/>
<line x1="481.22" y1="268.3" x2="481.22" y2="269.1" stroke="#1a1a1a" stroke-width="0.9"/>
<line x1="482.69" y1="267.2" x2="482.69" y2="269.1" stroke="#1a1a1a" stroke-width="0.9"/>
<line x1="484.16" y1="265.9" x2="484.16" y2="267.2" stroke="#1a1a1a" stroke-width="0.9"/>
<line x1="485.63" y1="265.9" x2="485.63" y2="267.0" stroke="#1a1a1a" stroke-width="0.9"/>
<line x1="487.10" y1="267.0" x2="487.10" y2="268.6" stroke="#1a1a1a" stroke-width="0.9"/>
<line x1="488.57" y1="223.5" x2="488.57" y2="241.5" stroke="#1a1a1a" stroke-width="0.9"/>
<line x1="490.04" y1="222.3" x2="490.04" y2="223.5" stroke="#1a1a1a" stroke-width="0.9"/>
<line x1="491.51" y1="220.1" x2="491.51" y2="222.3" stroke="#1a1a1a" stroke-width="0.9"/>
<line x1="492.98" y1="220.1" x2="492.98" y2="220.9" stroke="#1a1a1a" stroke-width="0.9"/>
<line x1="494.45" y1="220.9" x2="494.45" y2="226.3" stroke="#1a1a1a" stroke-width="0.9"/>
<line x1="495.92" y1="226.3" x2="495.92" y2="231.5" stroke="#1a1a1a" stroke-width="0.9"/>
<line x1="497.39" y1="231.5" x2="497.39" y2="237.1" stroke="#1a1a1a" stroke-width="0.9"/>
<line x1="498.86" y1="237.1" x2="498.86" y2="237.9" stroke="#1a1a1a" stroke-width="0.9"/>
<line x1="500.33" y1="237.2" x2="500.33" y2="238.0" stroke="#1a1a1a" stroke-width="0.9"/>
<line x1="501.80" y1="237.0" x2="501.80" y2="237.8" stroke="#1a1a1a" stroke-width="0.9"/>
<line x1="503.27" y1="234.0" x2="503.27" y2="237.3" stroke="#1a1a1a" stroke-width="0.9"/>
<line x1="504.74" y1="228.4" x2="504.74" y2="234.0" stroke="#1a1a1a" stroke-width="0.9"/>
<line x1="506.21" y1="218.3" x2="506.21" y2="228.4" stroke="#1a1a1a" stroke-width="0.9"/>
<line x1="507.68" y1="215.5" x2="507.68" y2="218.3" stroke="#1a1a1a" stroke-width="0.9"/>
<line x1="509.15" y1="215.1" x2="509.15" y2="215.9" stroke="#1a1a1a" stroke-width="0.9"/>
<line x1="510.62" y1="214.1" x2="510.62" y2="215.6" stroke="#1a1a1a" stroke-width="0.9"/>
<line x1="512.09" y1="213.4" x2="512.09" y2="214.2" stroke="#1a1a1a" stroke-width="0.9"/>
<line x1="513.56" y1="211.7" x2="513.56" y2="213.6" stroke="#1a1a1a" stroke-width="0.9"/>
<line x1="515.03" y1="210.9" x2="515.03" y2="211.7" stroke="#1a1a1a" stroke-width="0.9"/>
<line x1="516.50" y1="210.9" x2="516.50" y2="212.2" stroke="#1a1a1a" stroke-width="0.9"/>
<line x1="517.97" y1="212.2" x2="517.97" y2="220.1" stroke="#1a1a1a" stroke-width="0.9"/>
<line x1="519.44" y1="219.4" x2="519.44" y2="220.2" stroke="#1a1a1a" stroke-width="0.9"/>
<line x1="520.91" y1="217.2" x2="520.91" y2="219.6" stroke="#1a1a1a" stroke-width="0.9"/>
<line x1="522.38" y1="216.2" x2="522.38" y2="217.2" stroke="#1a1a1a" stroke-width="0.9"/>
<line x1="523.85" y1="213.5" x2="523.85" y2="216.2" stroke="#1a1a1a" stroke-width="0.9"/>
<line x1="525.32" y1="213.4" x2="525.32" y2="214.2" stroke="#1a1a1a" stroke-width="0.9"/>
<line x1="526.79" y1="212.0" x2="526.79" y2="214.0" stroke="#1a1a1a" stroke-width="0.9"/>
<line x1="528.26" y1="210.7" x2="528.26" y2="212.0" stroke="#1a1a1a" stroke-width="0.9"/>
<line x1="529.73" y1="210.6" x2="529.73" y2="211.4" stroke="#1a1a1a" stroke-width="0.9"/>
<line x1="531.20" y1="211.3" x2="531.20" y2="212.9" stroke="#1a1a1a" stroke-width="0.9"/>
<line x1="532.67" y1="212.9" x2="532.67" y2="213.8" stroke="#1a1a1a" stroke-width="0.9"/>
<line x1="534.14" y1="213.7" x2="534.14" y2="214.5" stroke="#1a1a1a" stroke-width="0.9"/>
<line x1="535.61" y1="212.5" x2="535.61" y2="214.4" stroke="#1a1a1a" stroke-width="0.9"/>
<line x1="537.08" y1="211.7" x2="537.08" y2="212.5" stroke="#1a1a1a" stroke-width="0.9"/>
<line x1="538.55" y1="209.0" x2="538.55" y2="211.8" stroke="#1a1a1a" stroke-width="0.9"/>
<line x1="540.02" y1="208.2" x2="540.02" y2="209.0" stroke="#1a1a1a" stroke-width="0.9"/>
<line x1="541.49" y1="207.1" x2="541.49" y2="208.2" stroke="#1a1a1a" stroke-width="0.9"/>
<line x1="542.96" y1="207.1" x2="542.96" y2="208.0" stroke="#1a1a1a" stroke-width="0.9"/>
<line x1="544.43" y1="207.8" x2="544.43" y2="208.6" stroke="#1a1a1a" stroke-width="0.9"/>
<line x1="545.90" y1="207.5" x2="545.90" y2="208.3" stroke="#1a1a1a" stroke-width="0.9"/>
<line x1="547.37" y1="207.5" x2="547.37" y2="209.6" stroke="#1a1a1a" stroke-width="0.9"/>
<line x1="548.84" y1="183.3" x2="548.84" y2="209.6" stroke="#1a1a1a" stroke-width="0.9"/>
<line x1="550.31" y1="181.6" x2="550.31" y2="183.3" stroke="#1a1a1a" stroke-width="0.9"/>
<line x1="551.78" y1="181.0" x2="551.78" y2="181.8" stroke="#1a1a1a" stroke-width="0.9"/>
<line x1="553.25" y1="178.1" x2="553.25" y2="181.1" stroke="#1a1a1a" stroke-width="0.9"/>
<line x1="554.72" y1="171.1" x2="554.72" y2="178.1" stroke="#1a1a1a" stroke-width="0.9"/>
<line x1="556.19" y1="169.2" x2="556.19" y2="171.1" stroke="#1a1a1a" stroke-width="0.9"/>
<line x1="557.66" y1="167.7" x2="557.66" y2="169.2" stroke="#1a1a1a" stroke-width="0.9"/>
<line x1="559.13" y1="166.4" x2="559.13" y2="167.7" stroke="#1a1a1a" stroke-width="0.9"/>
<line x1="560.60" y1="166.1" x2="560.60" y2="166.9" stroke="#1a1a1a" stroke-width="0.9"/>
<line x1="562.07" y1="164.3" x2="562.07" y2="166.6" stroke="#1a1a1a" stroke-width="0.9"/>
<line x1="563.54" y1="163.6" x2="563.54" y2="164.4" stroke="#1a1a1a" stroke-width="0.9"/>
<line x1="565.01" y1="162.4" x2="565.01" y2="163.8" stroke="#1a1a1a" stroke-width="0.9"/>
<line x1="566.48" y1="161.7" x2="566.48" y2="162.5" stroke="#1a1a1a" stroke-width="0.9"/>
<line x1="567.95" y1="159.7" x2="567.95" y2="161.9" stroke="#1a1a1a" stroke-width="0.9"/>
<line x1="569.42" y1="159.0" x2="569.42" y2="159.8" stroke="#1a1a1a" stroke-width="0.9"/>
<line x1="570.89" y1="157.6" x2="570.89" y2="159.1" stroke="#1a1a1a" stroke-width="0.9"/>
<line x1="572.36" y1="157.6" x2="572.36" y2="158.6" stroke="#1a1a1a" stroke-width="0.9"/>
<line x1="573.83" y1="158.6" x2="573.83" y2="159.8" stroke="#1a1a1a" stroke-width="0.9"/>
<line x1="575.30" y1="159.8" x2="575.30" y2="161.7" stroke="#1a1a1a" stroke-width="0.9"/>
<line x1="576.77" y1="140.8" x2="576.77" y2="161.7" stroke="#1a1a1a" stroke-width="0.9"/>
<line x1="578.24" y1="107.1" x2="578.24" y2="140.8" stroke="#1a1a1a" stroke-width="0.9"/>
<line x1="579.71" y1="107.1" x2="579.71" y2="110.1" stroke="#1a1a1a" stroke-width="0.9"/>
<line x1="581.18" y1="108.7" x2="581.18" y2="110.1" stroke="#1a1a1a" stroke-width="0.9"/>
<line x1="582.65" y1="106.6" x2="582.65" y2="108.7" stroke="#1a1a1a" stroke-width="0.9"/>
<line x1="584.12" y1="106.6" x2="584.12" y2="122.3" stroke="#1a1a1a" stroke-width="0.9"/>
<line x1="585.59" y1="122.0" x2="585.59" y2="122.8" stroke="#1a1a1a" stroke-width="0.9"/>
<line x1="587.06" y1="119.5" x2="587.06" y2="122.5" stroke="#1a1a1a" stroke-width="0.9"/>
<line x1="588.53" y1="119.5" x2="588.53" y2="124.0" stroke="#1a1a1a" stroke-width="0.9"/>
<line x1="590.00" y1="124.0" x2="590.00" y2="126.7" stroke="#1a1a1a" stroke-width="0.9"/>
<line x1="591.47" y1="126.7" x2="591.47" y2="130.7" stroke="#1a1a1a" stroke-width="0.9"/>
<line x1="592.94" y1="130.1" x2="592.94" y2="130.9" stroke="#1a1a1a" stroke-width="0.9"/>
<line x1="594.41" y1="128.8" x2="594.41" y2="130.4" stroke="#1a1a1a" stroke-width="0.9"/>
<line x1="595.88" y1="127.3" x2="595.88" y2="128.8" stroke="#1a1a1a" stroke-width="0.9"/>
<line x1="597.35" y1="126.7" x2="597.35" y2="127.5" stroke="#1a1a1a" stroke-width="0.9"/>
<line x1="598.82" y1="124.3" x2="598.82" y2="126.9" stroke="#1a1a1a" stroke-width="0.9"/>
<line x1="600.29" y1="124.3" x2="600.29" y2="125.1" stroke="#1a1a1a" stroke-width="0.9"/>
<line x1="601.76" y1="125.1" x2="601.76" y2="126.3" stroke="#1a1a1a" stroke-width="0.9"/>
<line x1="603.23" y1="126.2" x2="603.23" y2="127.0" stroke="#1a1a1a" stroke-width="0.9"/>
<line x1="604.70" y1="126.7" x2="604.70" y2="127.5" stroke="#1a1a1a" stroke-width="0.9"/>
<line x1="606.17" y1="127.4" x2="606.17" y2="133.0" stroke="#1a1a1a" stroke-width="0.9"/>
<line x1="607.64" y1="126.3" x2="607.64" y2="133.0" stroke="#1a1a1a" stroke-width="0.9"/>
<line x1="609.11" y1="126.1" x2="609.11" y2="126.9" stroke="#1a1a1a" stroke-width="0.9"/>
<line x1="610.58" y1="125.3" x2="610.58" y2="126.7" stroke="#1a1a1a" stroke-width="0.9"/>
<line x1="612.05" y1="125.0" x2="612.05" y2="125.8" stroke="#1a1a1a" stroke-width="0.9"/>
<line x1="613.52" y1="125.5" x2="613.52" y2="131.9" stroke="#1a1a1a" stroke-width="0.9"/>
<line x1="614.99" y1="131.9" x2="614.99" y2="136.9" stroke="#1a1a1a" stroke-width="0.9"/>
<line x1="616.46" y1="136.6" x2="616.46" y2="137.4" stroke="#1a1a1a" stroke-width="0.9"/>
<line x1="617.93" y1="136.7" x2="617.93" y2="137.5" stroke="#1a1a1a" stroke-width="0.9"/>
<line x1="619.40" y1="133.8" x2="619.40" y2="137.2" stroke="#1a1a1a" stroke-width="0.9"/>
<line x1="620.87" y1="133.1" x2="620.87" y2="133.9" stroke="#1a1a1a" stroke-width="0.9"/>
<line x1="622.34" y1="130.9" x2="622.34" y2="133.2" stroke="#1a1a1a" stroke-width="0.9"/>
<line x1="623.81" y1="128.5" x2="623.81" y2="130.9" stroke="#1a1a1a" stroke-width="0.9"/>
<line x1="625.28" y1="126.3" x2="625.28" y2="128.5" stroke="#1a1a1a" stroke-width="0.9"/>
<line x1="626.75" y1="124.3" x2="626.75" y2="126.3" stroke="#1a1a1a" stroke-width="0.9"/>
<line x1="628.22" y1="122.3" x2="628.22" y2="124.3" stroke="#1a1a1a" stroke-width="0.9"/>
<line x1="629.69" y1="122.3" x2="629.69" y2="123.1" stroke="#1a1a1a" stroke-width="0.9"/>
<line x1="631.16" y1="123.0" x2="631.16" y2="123.8" stroke="#1a1a1a" stroke-width="0.9"/>
<line x1="632.63" y1="123.6" x2="632.63" y2="126.4" stroke="#1a1a1a" stroke-width="0.9"/>
<polyline points="1.5,238.3 3.1,239.5 5.0,241.4 6.3,238.9 7.5,233.9 9.4,228.9 11.3,223.8 12.6,223.2 14.4,224.5 16.1,223.8 17.0,230.1 17.6,240.2 18.2,249.0 18.8,255.3 20.7,255.9 22.6,255.3 23.9,252.7 25.8,248.3 27.6,249.6 30.2,249.0 32.7,250.9 35.2,250.2 37.7,246.5 39.6,242.7 41.5,243.9 43.3,245.2 45.5,245.5 46.2,242.7 46.7,255.3 47.1,264.0 47.7,260.3 50.3,262.8 52.1,259.0 53.4,254.6 55.3,256.5 57.2,255.3 59.7,253.4 62.2,252.1 64.1,249.0 66.6,245.8 68.5,246.5 70.4,249.0 73.5,247.7 75.4,241.4 76.6,237.0 78.5,237.7 80.4,239.5 81.7,241.4 82.9,243.9 85.4,245.2 87.9,245.8 90.5,247.1 93.6,247.7 94.8,254.0 96.1,255.9 98.0,252.7 100.5,251.5 103.0,250.9 103.8,249.5 105.3,250.1 105.7,252.0 107.5,255.2 109.4,258.3 111.3,259.5 112.6,256.4 115.1,257.0 117.6,258.3 120.1,257.7 122.6,257.0 124.5,258.9 126.4,261.4 128.9,262.7 131.4,263.3 133.7,262.1 134.2,266.5 134.3,265.8 134.5,284.6 136.4,285.2 137.7,277.1 139.2,277.7 140.5,274.6 140.8,283.4 143.3,282.1 145.2,279.0 147.1,280.8 149.0,284.0 150.9,285.9 152.8,287.1 154.6,291.5 156.5,287.1 158.0,286.5 159.0,290.3 160.9,292.2 162.8,292.8 163.8,299.1 164.1,274.6 165.3,267.7 167.2,271.5 168.8,272.7 169.3,256.4 169.8,241.3 171.6,245.1 173.5,248.2 174.7,249.5 176.0,255.2 176.9,259.5 179.1,258.9 181.7,257.7 182.9,252.0 184.8,255.2 187.3,256.4 189.2,257.9 191.7,257.0 193.2,255.8 193.6,240.1 193.8,231.3 195.5,233.8 197.4,236.3 199.2,237.6 200.5,240.7 202.4,241.3 204.0,244.6 206.5,246.5 209.0,248.3 211.5,247.1 214.1,248.3 215.9,249.6 217.8,247.1 220.3,245.2 222.2,246.5 222.8,237.7 224.7,235.2 226.0,238.3 227.9,238.9 229.1,242.7 231.0,243.9 232.9,247.7 234.8,249.6 237.3,249.0 239.8,249.0 241.7,246.5 242.9,245.2 243.6,252.7 245.5,253.4 248.0,252.1 250.5,250.9 251.7,251.5 252.4,242.7 253.0,237.7 254.9,238.3 256.8,235.8 258.3,233.9 258.6,220.7 259.9,228.9 261.2,232.0 263.0,235.2 264.9,236.4 266.8,238.3 268.7,235.2 270.0,232.0 271.8,237.0 273.7,235.2 275.6,233.9 278.1,235.2 280.6,233.3 281.3,232.0 281.9,241.4 283.1,247.7 285.0,249.0 286.9,247.7 288.2,242.7 290.1,243.3 291.9,246.5 293.8,249.0 296.3,250.0 299.5,250.2 303.2,251.2 308.0,251.7 309.8,251.6" fill="none" stroke="#222" stroke-width="0.35" stroke-linejoin="miter"/>
<polyline points="311.0,256.6 311.5,272.9 316.0,277.9 322.3,284.2 328.6,283.0 330.0,280.1 331.3,287.7 333.8,290.2 336.3,288.9 339.4,291.4 340.3,271.3 342.6,273.8 345.1,277.6 346.3,281.4 348.2,271.3 350.7,273.8 353.2,275.7 355.8,274.5 357.6,277.6 359.5,275.1 360.8,282.6 362.7,284.5 365.2,280.1 367.7,278.9 370.2,277.6 371.5,288.9 373.3,293.9 375.9,296.5 377.5,299.6 378.4,291.4 380.3,285.2 382.1,292.7 384.0,295.8 386.5,292.7 389.0,285.2 390.3,283.9 391.2,299.0 392.8,295.2 395.3,289.5 397.8,288.3 399.3,286.4 401.0,295.2 402.9,286.4 404.7,285.8 405.4,295.2 407.3,287.7 408.9,296.5 411.0,292.7 413.5,290.2 416.7,288.9 419.2,288.3 421.1,286.4 423.0,292.7 425.5,295.2 428.0,297.7 429.2,275.1 430.0,275.3 431.9,277.8 433.8,274.0 435.0,270.2 436.3,275.3 438.2,279.0 440.1,280.3 441.9,277.8 443.8,281.5 445.7,284.0 447.6,279.0 450.1,277.8 452.0,276.5 453.2,278.4 455.1,280.3 457.0,281.5 458.3,279.0 458.6,267.7 460.2,279.0 461.4,269.0 462.9,262.7 463.9,253.9 465.8,250.8 467.7,250.1 469.6,253.9 470.8,256.4 472.7,258.9 474.0,255.2 475.2,248.9 477.1,241.3 477.7,253.9 478.7,262.7 479.6,268.3 480.9,269.6 482.8,266.5 484.6,265.8 486.5,268.3 487.8,269.0" fill="none" stroke="#222" stroke-width="0.35" stroke-linejoin="miter"/>
<polyline points="488.0,225.0 492.6,218.9 495.0,227.7 497.7,239.0 501.4,237.7 504.0,231.5 505.8,224.0 506.6,214.0 508.3,215.9 510.2,214.0 512.7,213.3 514.5,211.5 516.4,210.2 517.1,217.7 518.3,220.3 520.2,218.4 522.1,216.5 523.3,214.6 525.2,214.0 527.1,210.8 529.0,210.2 530.3,212.7 532.1,214.0 534.0,215.2 535.9,212.7 537.8,210.2 539.7,208.3 541.6,207.1 543.4,208.9 545.3,207.7 546.6,208.9 547.2,217.7 547.8,188.8 549.1,182.6 551.0,180.7 552.2,181.9 554.1,173.8 555.4,170.0 556.5,169.0 560.3,166.5 564.0,162.8 567.8,160.3 570.4,157.7 574.0,159.0 575.4,161.5 576.6,156.5 576.7,144.0 577.4,107.6 579.2,107.6 580.5,112.0 581.8,107.0 582.6,106.4 583.4,120.2 584.9,123.9 586.8,118.9 588.0,122.7 589.7,124.6 591.2,131.5 593.1,129.6 594.9,127.7 596.8,128.3 598.7,125.2 600.6,124.6 603.1,126.5 605.0,127.7 606.0,135.3 606.9,121.4 608.1,128.3 610.0,126.5 611.3,122.7 612.8,128.3 614.0,135.3 615.7,137.1 617.6,137.8 619.4,134.6 621.3,132.1 623.2,130.2 625.1,127.1 627.0,123.9 628.9,122.1 630.7,123.3 632.6,125.8 633.9,126.5" fill="none" stroke="#222" stroke-width="0.35" stroke-linejoin="miter"/>
<line x1="635.2" y1="57.6" x2="635.2" y2="62.6" stroke="#8a8f8a" stroke-width="1.4"/>
<line x1="635.2" y1="99" x2="635.2" y2="118.3" stroke="#6a6f6a" stroke-width="1.2"/>
<rect x="634.3" y="62.5" width="2.2" height="37" fill="#2a2a2a"/>
<rect x="637" y="84" width="1.3" height="16.5" fill="#a4aaa4"/>
<defs><linearGradient id="gu" gradientUnits="userSpaceOnUse" x1="689" y1="112.3" x2="714.3" y2="35.3"><stop offset="0" stop-color="#b2b7b2"/><stop offset="0.5" stop-color="#8c908c"/><stop offset="1" stop-color="#666866"/></linearGradient><linearGradient id="gd" gradientUnits="userSpaceOnUse" x1="668.6" y1="157.4" x2="704.1" y2="239.8"><stop offset="0" stop-color="#c2c7c2"/><stop offset="0.55" stop-color="#989c98"/><stop offset="1" stop-color="#626462"/></linearGradient></defs>
<line x1="668.6" y1="157.4" x2="689" y2="112.3" stroke="#747774" stroke-width="1.35"/>
<line x1="689" y1="112.3" x2="714.3" y2="35.3" stroke="url(#gu)" stroke-width="1.2"/>
<line x1="668.6" y1="157.4" x2="704.1" y2="239.8" stroke="url(#gd)" stroke-width="1.2"/>
<polygon points="689.2,111.8 688.9,115.5 686.6,114.5" fill="#444"/>
<polygon points="714.5,34.8 714.6,38.5 712.3,37.8" fill="#555"/>
<polygon points="704.3,240.2 701.8,237.5 704.0,236.5" fill="#4a4a4a"/>
<polygon points="2.0,424.4 2.0,390.2 7.5,388.4 12.0,385.4 15.6,386.7 18.8,398.5 22.6,411.0 26.4,417.8 31.4,421.0 36.4,423.0 40.2,421.0 45.2,421.0 47.7,427.4 51.5,432.9 56.5,431.0 61.5,427.4 65.3,424.4 67.8,422.9 74.0,421.8 79.0,415.3 83.0,418.6 88.0,419.3 93.0,421.8 96.7,426.0 103.0,427.4 110.5,430.6 118.0,431.0 125.6,431.9 133.2,433.7 137.0,441.2 142.0,445.5 148.2,446.2 154.5,446.7 160.8,445.0 164.6,437.4 167.0,429.9 169.6,421.0 172.0,409.8 174.6,406.0 179.6,408.5 184.7,407.8 191.0,411.0 194.7,403.5 198.5,401.0 203.5,404.8 208.0,409.8 213.0,414.8 218.0,416.8 221.8,417.3 225.6,414.0 230.6,416.0 235.6,421.0 239.4,423.6 245.7,426.6 250.7,427.4 254.5,421.0 259.5,412.3 264.5,412.3 269.6,414.8 275.8,416.0 280.9,417.3 283.4,423.6 288.4,427.4 296.0,431.0 303.5,432.4 309.8,432.9 313.5,438.7 318.6,448.7 323.6,454.5 328.6,453.8 333.6,452.5 338.7,448.7 342.4,441.2 347.4,433.7 353.7,427.4 358.8,426.0 363.8,428.6 370.0,427.4 373.8,432.9 376.3,437.4 381.4,436.2 386.4,434.9 389.0,432.4 394.0,433.7 399.0,431.9 404.0,428.6 409.0,428.6 416.0,426.9 421.0,425.4 424.8,426.6 427.3,428.6 428.6,423.6 432.3,418.6 436.0,414.3 441.0,413.6 446.2,418.6 451.2,416.8 457.5,417.8 461.2,414.8 465.0,406.0 468.8,402.3 472.5,402.3 476.3,398.5 480.0,406.0 483.8,414.8 486.4,418.6 488.9,401.0 493.4,389.2 497.7,397.2 502.7,399.7 507.7,394.7 512.7,392.7 516.5,393.5 521.5,398.5 527.8,401.0 535.3,407.3 541.6,409.3 546.7,411.0 550.4,399.7 555.4,389.7 560.5,384.7 566.8,383.4 571.8,385.9 575.5,389.7 578.0,375.9 581.8,364.6 586.9,370.0 590.6,378.4 594.4,387.2 600.7,396.0 605.7,403.5 612.0,409.8 617.0,417.3 620.8,419.3 624.0,418.6 625.8,417.3 629.5,415.3 633.3,416.0 634.0,402.3 635.8,398.5 637.6,394.7 638.3,394.7 638.3,424.4" fill="#a2a6a2"/>
<rect x="1.55" y="390.2" width="0.9" height="34.2" fill="#8d908d"/>
<rect x="3.02" y="389.7" width="0.9" height="34.7" fill="#8d908d"/>
<rect x="4.49" y="389.2" width="0.9" height="35.2" fill="#8d908d"/>
<rect x="5.96" y="388.8" width="0.9" height="35.6" fill="#8d908d"/>
<rect x="7.43" y="388.1" width="0.9" height="36.3" fill="#8d908d"/>
<rect x="8.90" y="387.2" width="0.9" height="37.2" fill="#8d908d"/>
<rect x="10.37" y="386.2" width="0.9" height="38.2" fill="#8d908d"/>
<rect x="11.84" y="385.5" width="0.9" height="38.9" fill="#8d908d"/>
<rect x="13.31" y="386.0" width="0.9" height="38.4" fill="#8d908d"/>
<rect x="14.78" y="386.6" width="0.9" height="37.8" fill="#8d908d"/>
<rect x="16.25" y="390.8" width="0.9" height="33.6" fill="#8d908d"/>
<rect x="17.72" y="396.2" width="0.9" height="28.2" fill="#8d908d"/>
<rect x="19.19" y="401.3" width="0.9" height="23.1" fill="#8d908d"/>
<rect x="20.66" y="406.1" width="0.9" height="18.3" fill="#8d908d"/>
<rect x="22.13" y="410.9" width="0.9" height="13.5" fill="#8d908d"/>
<rect x="23.60" y="413.6" width="0.9" height="10.8" fill="#8d908d"/>
<rect x="25.07" y="416.2" width="0.9" height="8.2" fill="#8d908d"/>
<rect x="26.54" y="418.2" width="0.9" height="6.2" fill="#8d908d"/>
<rect x="28.01" y="419.1" width="0.9" height="5.3" fill="#8d908d"/>
<rect x="29.48" y="420.1" width="0.9" height="4.3" fill="#8d908d"/>
<rect x="30.95" y="421.0" width="0.9" height="3.4" fill="#8d908d"/>
<rect x="32.42" y="421.6" width="0.9" height="2.8" fill="#8d908d"/>
<rect x="33.89" y="422.2" width="0.9" height="2.2" fill="#8d908d"/>
<rect x="35.36" y="422.8" width="0.9" height="1.6" fill="#8d908d"/>
<rect x="36.83" y="422.5" width="0.9" height="1.9" fill="#8d908d"/>
<rect x="38.30" y="421.8" width="0.9" height="2.6" fill="#8d908d"/>
<rect x="39.77" y="421.0" width="0.9" height="3.4" fill="#8d908d"/>
<rect x="41.24" y="421.0" width="0.9" height="3.4" fill="#8d908d"/>
<rect x="42.71" y="421.0" width="0.9" height="3.4" fill="#8d908d"/>
<rect x="44.18" y="421.0" width="0.9" height="3.4" fill="#8d908d"/>
<rect x="45.65" y="423.3" width="0.9" height="1.1" fill="#8d908d"/>
<rect x="47.12" y="424.4" width="0.9" height="2.7" fill="#8d908d"/>
<rect x="48.59" y="424.4" width="0.9" height="4.9" fill="#8d908d"/>
<rect x="50.06" y="424.4" width="0.9" height="7.1" fill="#8d908d"/>
<rect x="51.53" y="424.4" width="0.9" height="8.3" fill="#8d908d"/>
<rect x="53.00" y="424.4" width="0.9" height="7.8" fill="#8d908d"/>
<rect x="54.47" y="424.4" width="0.9" height="7.2" fill="#8d908d"/>
<rect x="55.94" y="424.4" width="0.9" height="6.6" fill="#8d908d"/>
<rect x="57.41" y="424.4" width="0.9" height="5.6" fill="#8d908d"/>
<rect x="58.88" y="424.4" width="0.9" height="4.6" fill="#8d908d"/>
<rect x="60.35" y="424.4" width="0.9" height="3.5" fill="#8d908d"/>
<rect x="61.82" y="424.4" width="0.9" height="2.4" fill="#8d908d"/>
<rect x="63.29" y="424.4" width="0.9" height="1.2" fill="#8d908d"/>
<rect x="64.76" y="424.4" width="0.9" height="0.1" fill="#8d908d"/>
<rect x="66.23" y="423.6" width="0.9" height="0.8" fill="#8d908d"/>
<rect x="67.70" y="422.8" width="0.9" height="1.6" fill="#8d908d"/>
<rect x="69.17" y="422.6" width="0.9" height="1.8" fill="#8d908d"/>
<rect x="70.64" y="422.3" width="0.9" height="2.1" fill="#8d908d"/>
<rect x="72.11" y="422.1" width="0.9" height="2.3" fill="#8d908d"/>
<rect x="73.58" y="421.8" width="0.9" height="2.6" fill="#8d908d"/>
<rect x="75.05" y="419.9" width="0.9" height="4.5" fill="#8d908d"/>
<rect x="76.52" y="417.9" width="0.9" height="6.5" fill="#8d908d"/>
<rect x="77.99" y="416.0" width="0.9" height="8.4" fill="#8d908d"/>
<rect x="79.46" y="416.1" width="0.9" height="8.3" fill="#8d908d"/>
<rect x="80.93" y="417.3" width="0.9" height="7.1" fill="#8d908d"/>
<rect x="82.40" y="418.5" width="0.9" height="5.9" fill="#8d908d"/>
<rect x="83.87" y="418.8" width="0.9" height="5.6" fill="#8d908d"/>
<rect x="85.34" y="419.0" width="0.9" height="5.4" fill="#8d908d"/>
<rect x="86.81" y="419.2" width="0.9" height="5.2" fill="#8d908d"/>
<rect x="88.28" y="419.7" width="0.9" height="4.7" fill="#8d908d"/>
<rect x="89.75" y="420.4" width="0.9" height="4.0" fill="#8d908d"/>
<rect x="91.22" y="421.1" width="0.9" height="3.3" fill="#8d908d"/>
<rect x="92.69" y="422.0" width="0.9" height="2.4" fill="#8d908d"/>
<rect x="94.16" y="423.6" width="0.9" height="0.8" fill="#8d908d"/>
<rect x="95.63" y="424.4" width="0.9" height="0.9" fill="#8d908d"/>
<rect x="97.10" y="424.4" width="0.9" height="1.8" fill="#8d908d"/>
<rect x="98.57" y="424.4" width="0.9" height="2.1" fill="#8d908d"/>
<rect x="100.04" y="424.4" width="0.9" height="2.4" fill="#8d908d"/>
<rect x="101.51" y="424.4" width="0.9" height="2.8" fill="#8d908d"/>
<rect x="102.98" y="424.4" width="0.9" height="3.2" fill="#8d908d"/>
<rect x="104.45" y="424.4" width="0.9" height="3.8" fill="#8d908d"/>
<rect x="105.92" y="424.4" width="0.9" height="4.4" fill="#8d908d"/>
<rect x="107.39" y="424.4" width="0.9" height="5.1" fill="#8d908d"/>
<rect x="108.86" y="424.4" width="0.9" height="5.7" fill="#8d908d"/>
<rect x="110.33" y="424.4" width="0.9" height="6.2" fill="#8d908d"/>
<rect x="111.80" y="424.4" width="0.9" height="6.3" fill="#8d908d"/>
<rect x="113.27" y="424.4" width="0.9" height="6.4" fill="#8d908d"/>
<rect x="114.74" y="424.4" width="0.9" height="6.5" fill="#8d908d"/>
<rect x="116.21" y="424.4" width="0.9" height="6.5" fill="#8d908d"/>
<rect x="117.68" y="424.4" width="0.9" height="6.6" fill="#8d908d"/>
<rect x="119.15" y="424.4" width="0.9" height="6.8" fill="#8d908d"/>
<rect x="120.62" y="424.4" width="0.9" height="7.0" fill="#8d908d"/>
<rect x="122.09" y="424.4" width="0.9" height="7.1" fill="#8d908d"/>
<rect x="123.56" y="424.4" width="0.9" height="7.3" fill="#8d908d"/>
<rect x="125.03" y="424.4" width="0.9" height="7.5" fill="#8d908d"/>
<rect x="126.50" y="424.4" width="0.9" height="7.8" fill="#8d908d"/>
<rect x="127.97" y="424.4" width="0.9" height="8.2" fill="#8d908d"/>
<rect x="129.44" y="424.4" width="0.9" height="8.5" fill="#8d908d"/>
<rect x="130.91" y="424.4" width="0.9" height="8.9" fill="#8d908d"/>
<rect x="132.38" y="424.4" width="0.9" height="9.2" fill="#8d908d"/>
<rect x="133.85" y="424.4" width="0.9" height="11.5" fill="#8d908d"/>
<rect x="135.32" y="424.4" width="0.9" height="14.4" fill="#8d908d"/>
<rect x="136.79" y="424.4" width="0.9" height="17.0" fill="#8d908d"/>
<rect x="138.26" y="424.4" width="0.9" height="18.3" fill="#8d908d"/>
<rect x="139.73" y="424.4" width="0.9" height="19.5" fill="#8d908d"/>
<rect x="141.20" y="424.4" width="0.9" height="20.8" fill="#8d908d"/>
<rect x="142.67" y="424.4" width="0.9" height="21.2" fill="#8d908d"/>
<rect x="144.14" y="424.4" width="0.9" height="21.4" fill="#8d908d"/>
<rect x="145.61" y="424.4" width="0.9" height="21.6" fill="#8d908d"/>
<rect x="147.08" y="424.4" width="0.9" height="21.7" fill="#8d908d"/>
<rect x="148.55" y="424.4" width="0.9" height="21.9" fill="#8d908d"/>
<rect x="150.02" y="424.4" width="0.9" height="22.0" fill="#8d908d"/>
<rect x="151.49" y="424.4" width="0.9" height="22.1" fill="#8d908d"/>
<rect x="152.96" y="424.4" width="0.9" height="22.2" fill="#8d908d"/>
<rect x="154.43" y="424.4" width="0.9" height="22.2" fill="#8d908d"/>
<rect x="155.90" y="424.4" width="0.9" height="21.8" fill="#8d908d"/>
<rect x="157.37" y="424.4" width="0.9" height="21.4" fill="#8d908d"/>
<rect x="158.84" y="424.4" width="0.9" height="21.0" fill="#8d908d"/>
<rect x="160.31" y="424.4" width="0.9" height="20.6" fill="#8d908d"/>
<rect x="161.78" y="424.4" width="0.9" height="17.7" fill="#8d908d"/>
<rect x="163.25" y="424.4" width="0.9" height="14.8" fill="#8d908d"/>
<rect x="164.72" y="424.4" width="0.9" height="11.2" fill="#8d908d"/>
<rect x="166.19" y="424.4" width="0.9" height="6.6" fill="#8d908d"/>
<rect x="167.66" y="424.4" width="0.9" height="1.7" fill="#8d908d"/>
<rect x="169.13" y="421.1" width="0.9" height="3.3" fill="#8d908d"/>
<rect x="170.60" y="414.2" width="0.9" height="10.2" fill="#8d908d"/>
<rect x="172.07" y="409.0" width="0.9" height="15.4" fill="#8d908d"/>
<rect x="173.54" y="406.9" width="0.9" height="17.5" fill="#8d908d"/>
<rect x="175.01" y="406.4" width="0.9" height="18.0" fill="#8d908d"/>
<rect x="176.48" y="407.2" width="0.9" height="17.2" fill="#8d908d"/>
<rect x="177.95" y="407.9" width="0.9" height="16.5" fill="#8d908d"/>
<rect x="179.42" y="408.5" width="0.9" height="15.9" fill="#8d908d"/>
<rect x="180.89" y="408.3" width="0.9" height="16.1" fill="#8d908d"/>
<rect x="182.36" y="408.1" width="0.9" height="16.3" fill="#8d908d"/>
<rect x="183.83" y="407.9" width="0.9" height="16.5" fill="#8d908d"/>
<rect x="185.30" y="408.3" width="0.9" height="16.1" fill="#8d908d"/>
<rect x="186.77" y="409.1" width="0.9" height="15.3" fill="#8d908d"/>
<rect x="188.24" y="409.8" width="0.9" height="14.6" fill="#8d908d"/>
<rect x="189.71" y="410.6" width="0.9" height="13.8" fill="#8d908d"/>
<rect x="191.18" y="409.7" width="0.9" height="14.7" fill="#8d908d"/>
<rect x="192.65" y="406.7" width="0.9" height="17.7" fill="#8d908d"/>
<rect x="194.12" y="403.8" width="0.9" height="20.6" fill="#8d908d"/>
<rect x="195.59" y="402.6" width="0.9" height="21.8" fill="#8d908d"/>
<rect x="197.06" y="401.7" width="0.9" height="22.7" fill="#8d908d"/>
<rect x="198.53" y="401.4" width="0.9" height="23.0" fill="#8d908d"/>
<rect x="200.00" y="402.5" width="0.9" height="21.9" fill="#8d908d"/>
<rect x="201.47" y="403.6" width="0.9" height="20.8" fill="#8d908d"/>
<rect x="202.94" y="404.7" width="0.9" height="19.7" fill="#8d908d"/>
<rect x="204.41" y="406.3" width="0.9" height="18.1" fill="#8d908d"/>
<rect x="205.88" y="407.9" width="0.9" height="16.5" fill="#8d908d"/>
<rect x="207.35" y="409.6" width="0.9" height="14.8" fill="#8d908d"/>
<rect x="208.82" y="411.1" width="0.9" height="13.3" fill="#8d908d"/>
<rect x="210.29" y="412.5" width="0.9" height="11.9" fill="#8d908d"/>
<rect x="211.76" y="414.0" width="0.9" height="10.4" fill="#8d908d"/>
<rect x="213.23" y="415.1" width="0.9" height="9.3" fill="#8d908d"/>
<rect x="214.70" y="415.7" width="0.9" height="8.7" fill="#8d908d"/>
<rect x="216.17" y="416.2" width="0.9" height="8.2" fill="#8d908d"/>
<rect x="217.64" y="416.8" width="0.9" height="7.6" fill="#8d908d"/>
<rect x="219.11" y="417.0" width="0.9" height="7.4" fill="#8d908d"/>
<rect x="220.58" y="417.2" width="0.9" height="7.2" fill="#8d908d"/>
<rect x="222.05" y="416.7" width="0.9" height="7.7" fill="#8d908d"/>
<rect x="223.52" y="415.4" width="0.9" height="9.0" fill="#8d908d"/>
<rect x="224.99" y="414.1" width="0.9" height="10.3" fill="#8d908d"/>
<rect x="226.46" y="414.5" width="0.9" height="9.9" fill="#8d908d"/>
<rect x="227.93" y="415.1" width="0.9" height="9.3" fill="#8d908d"/>
<rect x="229.40" y="415.7" width="0.9" height="8.7" fill="#8d908d"/>
<rect x="230.87" y="416.7" width="0.9" height="7.7" fill="#8d908d"/>
<rect x="232.34" y="418.2" width="0.9" height="6.2" fill="#8d908d"/>
<rect x="233.81" y="419.7" width="0.9" height="4.7" fill="#8d908d"/>
<rect x="235.28" y="421.1" width="0.9" height="3.3" fill="#8d908d"/>
<rect x="236.75" y="422.1" width="0.9" height="2.3" fill="#8d908d"/>
<rect x="238.22" y="423.1" width="0.9" height="1.3" fill="#8d908d"/>
<rect x="239.69" y="424.0" width="0.9" height="0.4" fill="#8d908d"/>
<rect x="241.16" y="424.4" width="0.9" height="0.3" fill="#8d908d"/>
<rect x="242.63" y="424.4" width="0.9" height="1.0" fill="#8d908d"/>
<rect x="244.10" y="424.4" width="0.9" height="1.7" fill="#8d908d"/>
<rect x="245.57" y="424.4" width="0.9" height="2.3" fill="#8d908d"/>
<rect x="247.04" y="424.4" width="0.9" height="2.5" fill="#8d908d"/>
<rect x="248.51" y="424.4" width="0.9" height="2.7" fill="#8d908d"/>
<rect x="249.98" y="424.4" width="0.9" height="3.0" fill="#8d908d"/>
<rect x="251.45" y="424.4" width="0.9" height="1.0" fill="#8d908d"/>
<rect x="252.92" y="422.9" width="0.9" height="1.5" fill="#8d908d"/>
<rect x="254.39" y="420.4" width="0.9" height="4.0" fill="#8d908d"/>
<rect x="255.86" y="417.9" width="0.9" height="6.5" fill="#8d908d"/>
<rect x="257.33" y="415.3" width="0.9" height="9.1" fill="#8d908d"/>
<rect x="258.80" y="412.7" width="0.9" height="11.7" fill="#8d908d"/>
<rect x="260.27" y="412.3" width="0.9" height="12.1" fill="#8d908d"/>
<rect x="261.74" y="412.3" width="0.9" height="12.1" fill="#8d908d"/>
<rect x="263.21" y="412.3" width="0.9" height="12.1" fill="#8d908d"/>
<rect x="264.68" y="412.6" width="0.9" height="11.8" fill="#8d908d"/>
<rect x="266.15" y="413.3" width="0.9" height="11.1" fill="#8d908d"/>
<rect x="267.62" y="414.1" width="0.9" height="10.3" fill="#8d908d"/>
<rect x="269.09" y="414.8" width="0.9" height="9.6" fill="#8d908d"/>
<rect x="270.56" y="415.1" width="0.9" height="9.3" fill="#8d908d"/>
<rect x="272.03" y="415.4" width="0.9" height="9.0" fill="#8d908d"/>
<rect x="273.50" y="415.6" width="0.9" height="8.8" fill="#8d908d"/>
<rect x="274.97" y="415.9" width="0.9" height="8.5" fill="#8d908d"/>
<rect x="276.44" y="416.3" width="0.9" height="8.1" fill="#8d908d"/>
<rect x="277.91" y="416.7" width="0.9" height="7.7" fill="#8d908d"/>
<rect x="279.38" y="417.0" width="0.9" height="7.4" fill="#8d908d"/>
<rect x="280.85" y="418.3" width="0.9" height="6.1" fill="#8d908d"/>
<rect x="282.32" y="422.0" width="0.9" height="2.4" fill="#8d908d"/>
<rect x="283.79" y="424.2" width="0.9" height="0.2" fill="#8d908d"/>
<rect x="285.26" y="424.4" width="0.9" height="1.0" fill="#8d908d"/>
<rect x="286.73" y="424.4" width="0.9" height="2.1" fill="#8d908d"/>
<rect x="288.20" y="424.4" width="0.9" height="3.1" fill="#8d908d"/>
<rect x="289.67" y="424.4" width="0.9" height="3.8" fill="#8d908d"/>
<rect x="291.14" y="424.4" width="0.9" height="4.5" fill="#8d908d"/>
<rect x="292.61" y="424.4" width="0.9" height="5.2" fill="#8d908d"/>
<rect x="294.08" y="424.4" width="0.9" height="5.9" fill="#8d908d"/>
<rect x="295.55" y="424.4" width="0.9" height="6.6" fill="#8d908d"/>
<rect x="297.02" y="424.4" width="0.9" height="6.9" fill="#8d908d"/>
<rect x="298.49" y="424.4" width="0.9" height="7.1" fill="#8d908d"/>
<rect x="299.96" y="424.4" width="0.9" height="7.4" fill="#8d908d"/>
<rect x="301.43" y="424.4" width="0.9" height="7.7" fill="#8d908d"/>
<rect x="302.90" y="424.4" width="0.9" height="8.0" fill="#8d908d"/>
<rect x="304.37" y="424.4" width="0.9" height="8.1" fill="#8d908d"/>
<rect x="305.84" y="424.4" width="0.9" height="8.2" fill="#8d908d"/>
<rect x="307.31" y="424.4" width="0.9" height="8.3" fill="#8d908d"/>
<rect x="308.78" y="424.4" width="0.9" height="8.5" fill="#8d908d"/>
<rect x="310.25" y="424.4" width="0.9" height="9.9" fill="#8d908d"/>
<rect x="311.72" y="424.4" width="0.9" height="12.2" fill="#8d908d"/>
<rect x="313.19" y="424.4" width="0.9" height="14.6" fill="#8d908d"/>
<rect x="314.66" y="424.4" width="0.9" height="17.5" fill="#8d908d"/>
<rect x="316.13" y="424.4" width="0.9" height="20.3" fill="#8d908d"/>
<rect x="317.60" y="424.4" width="0.9" height="23.2" fill="#8d908d"/>
<rect x="319.07" y="424.4" width="0.9" height="25.4" fill="#8d908d"/>
<rect x="320.54" y="424.4" width="0.9" height="27.1" fill="#8d908d"/>
<rect x="322.01" y="424.4" width="0.9" height="28.8" fill="#8d908d"/>
<rect x="323.48" y="424.4" width="0.9" height="30.1" fill="#8d908d"/>
<rect x="324.95" y="424.4" width="0.9" height="29.8" fill="#8d908d"/>
<rect x="326.42" y="424.4" width="0.9" height="29.6" fill="#8d908d"/>
<rect x="327.89" y="424.4" width="0.9" height="29.4" fill="#8d908d"/>
<rect x="329.36" y="424.4" width="0.9" height="29.1" fill="#8d908d"/>
<rect x="330.83" y="424.4" width="0.9" height="28.7" fill="#8d908d"/>
<rect x="332.30" y="424.4" width="0.9" height="28.3" fill="#8d908d"/>
<rect x="333.77" y="424.4" width="0.9" height="27.6" fill="#8d908d"/>
<rect x="335.24" y="424.4" width="0.9" height="26.5" fill="#8d908d"/>
<rect x="336.71" y="424.4" width="0.9" height="25.4" fill="#8d908d"/>
<rect x="338.18" y="424.4" width="0.9" height="24.4" fill="#8d908d"/>
<rect x="339.65" y="424.4" width="0.9" height="21.5" fill="#8d908d"/>
<rect x="341.12" y="424.4" width="0.9" height="18.5" fill="#8d908d"/>
<rect x="342.59" y="424.4" width="0.9" height="15.8" fill="#8d908d"/>
<rect x="344.06" y="424.4" width="0.9" height="13.6" fill="#8d908d"/>
<rect x="345.53" y="424.4" width="0.9" height="11.4" fill="#8d908d"/>
<rect x="347.00" y="424.4" width="0.9" height="9.2" fill="#8d908d"/>
<rect x="348.47" y="424.4" width="0.9" height="7.8" fill="#8d908d"/>
<rect x="349.94" y="424.4" width="0.9" height="6.3" fill="#8d908d"/>
<rect x="351.41" y="424.4" width="0.9" height="4.8" fill="#8d908d"/>
<rect x="352.88" y="424.4" width="0.9" height="3.4" fill="#8d908d"/>
<rect x="354.35" y="424.4" width="0.9" height="2.7" fill="#8d908d"/>
<rect x="355.82" y="424.4" width="0.9" height="2.3" fill="#8d908d"/>
<rect x="357.29" y="424.4" width="0.9" height="1.9" fill="#8d908d"/>
<rect x="358.76" y="424.4" width="0.9" height="1.8" fill="#8d908d"/>
<rect x="360.23" y="424.4" width="0.9" height="2.6" fill="#8d908d"/>
<rect x="361.70" y="424.4" width="0.9" height="3.3" fill="#8d908d"/>
<rect x="363.17" y="424.4" width="0.9" height="4.1" fill="#8d908d"/>
<rect x="364.64" y="424.4" width="0.9" height="4.0" fill="#8d908d"/>
<rect x="366.11" y="424.4" width="0.9" height="3.7" fill="#8d908d"/>
<rect x="367.58" y="424.4" width="0.9" height="3.4" fill="#8d908d"/>
<rect x="369.05" y="424.4" width="0.9" height="3.1" fill="#8d908d"/>
<rect x="370.52" y="424.4" width="0.9" height="4.4" fill="#8d908d"/>
<rect x="371.99" y="424.4" width="0.9" height="6.5" fill="#8d908d"/>
<rect x="373.46" y="424.4" width="0.9" height="8.7" fill="#8d908d"/>
<rect x="374.93" y="424.4" width="0.9" height="11.3" fill="#8d908d"/>
<rect x="376.40" y="424.4" width="0.9" height="12.9" fill="#8d908d"/>
<rect x="377.87" y="424.4" width="0.9" height="12.5" fill="#8d908d"/>
<rect x="379.34" y="424.4" width="0.9" height="12.2" fill="#8d908d"/>
<rect x="380.81" y="424.4" width="0.9" height="11.8" fill="#8d908d"/>
<rect x="382.28" y="424.4" width="0.9" height="11.5" fill="#8d908d"/>
<rect x="383.75" y="424.4" width="0.9" height="11.1" fill="#8d908d"/>
<rect x="385.22" y="424.4" width="0.9" height="10.7" fill="#8d908d"/>
<rect x="386.69" y="424.4" width="0.9" height="9.8" fill="#8d908d"/>
<rect x="388.16" y="424.4" width="0.9" height="8.4" fill="#8d908d"/>
<rect x="389.63" y="424.4" width="0.9" height="8.3" fill="#8d908d"/>
<rect x="391.10" y="424.4" width="0.9" height="8.7" fill="#8d908d"/>
<rect x="392.57" y="424.4" width="0.9" height="9.0" fill="#8d908d"/>
<rect x="394.04" y="424.4" width="0.9" height="9.1" fill="#8d908d"/>
<rect x="395.51" y="424.4" width="0.9" height="8.6" fill="#8d908d"/>
<rect x="396.98" y="424.4" width="0.9" height="8.1" fill="#8d908d"/>
<rect x="398.45" y="424.4" width="0.9" height="7.5" fill="#8d908d"/>
<rect x="399.92" y="424.4" width="0.9" height="6.6" fill="#8d908d"/>
<rect x="401.39" y="424.4" width="0.9" height="5.6" fill="#8d908d"/>
<rect x="402.86" y="424.4" width="0.9" height="4.7" fill="#8d908d"/>
<rect x="404.33" y="424.4" width="0.9" height="4.2" fill="#8d908d"/>
<rect x="405.80" y="424.4" width="0.9" height="4.2" fill="#8d908d"/>
<rect x="407.27" y="424.4" width="0.9" height="4.2" fill="#8d908d"/>
<rect x="408.74" y="424.4" width="0.9" height="4.2" fill="#8d908d"/>
<rect x="410.21" y="424.4" width="0.9" height="3.8" fill="#8d908d"/>
<rect x="411.68" y="424.4" width="0.9" height="3.4" fill="#8d908d"/>
<rect x="413.15" y="424.4" width="0.9" height="3.1" fill="#8d908d"/>
<rect x="414.62" y="424.4" width="0.9" height="2.7" fill="#8d908d"/>
<rect x="416.09" y="424.4" width="0.9" height="2.3" fill="#8d908d"/>
<rect x="417.56" y="424.4" width="0.9" height="1.9" fill="#8d908d"/>
<rect x="419.03" y="424.4" width="0.9" height="1.5" fill="#8d908d"/>
<rect x="420.50" y="424.4" width="0.9" height="1.0" fill="#8d908d"/>
<rect x="421.97" y="424.4" width="0.9" height="1.4" fill="#8d908d"/>
<rect x="423.44" y="424.4" width="0.9" height="1.9" fill="#8d908d"/>
<rect x="424.91" y="424.4" width="0.9" height="2.6" fill="#8d908d"/>
<rect x="426.38" y="424.4" width="0.9" height="3.8" fill="#8d908d"/>
<rect x="427.85" y="424.4" width="0.9" height="0.4" fill="#8d908d"/>
<rect x="429.32" y="422.0" width="0.9" height="2.4" fill="#8d908d"/>
<rect x="430.79" y="420.0" width="0.9" height="4.4" fill="#8d908d"/>
<rect x="432.26" y="418.1" width="0.9" height="6.3" fill="#8d908d"/>
<rect x="433.73" y="416.4" width="0.9" height="8.0" fill="#8d908d"/>
<rect x="435.20" y="414.7" width="0.9" height="9.7" fill="#8d908d"/>
<rect x="436.67" y="414.1" width="0.9" height="10.3" fill="#8d908d"/>
<rect x="438.14" y="413.9" width="0.9" height="10.5" fill="#8d908d"/>
<rect x="439.61" y="413.7" width="0.9" height="10.7" fill="#8d908d"/>
<rect x="441.08" y="414.1" width="0.9" height="10.3" fill="#8d908d"/>
<rect x="442.55" y="415.5" width="0.9" height="8.9" fill="#8d908d"/>
<rect x="444.02" y="416.9" width="0.9" height="7.5" fill="#8d908d"/>
<rect x="445.49" y="418.4" width="0.9" height="6.0" fill="#8d908d"/>
<rect x="446.96" y="418.2" width="0.9" height="6.2" fill="#8d908d"/>
<rect x="448.43" y="417.6" width="0.9" height="6.8" fill="#8d908d"/>
<rect x="449.90" y="417.1" width="0.9" height="7.3" fill="#8d908d"/>
<rect x="451.37" y="416.9" width="0.9" height="7.5" fill="#8d908d"/>
<rect x="452.84" y="417.1" width="0.9" height="7.3" fill="#8d908d"/>
<rect x="454.31" y="417.4" width="0.9" height="7.0" fill="#8d908d"/>
<rect x="455.78" y="417.6" width="0.9" height="6.8" fill="#8d908d"/>
<rect x="457.25" y="417.6" width="0.9" height="6.8" fill="#8d908d"/>
<rect x="458.72" y="416.4" width="0.9" height="8.0" fill="#8d908d"/>
<rect x="460.19" y="415.3" width="0.9" height="9.1" fill="#8d908d"/>
<rect x="461.66" y="412.7" width="0.9" height="11.7" fill="#8d908d"/>
<rect x="463.13" y="409.3" width="0.9" height="15.1" fill="#8d908d"/>
<rect x="464.60" y="406.0" width="0.9" height="18.4" fill="#8d908d"/>
<rect x="466.07" y="404.5" width="0.9" height="19.9" fill="#8d908d"/>
<rect x="467.54" y="403.1" width="0.9" height="21.3" fill="#8d908d"/>
<rect x="469.01" y="402.3" width="0.9" height="22.1" fill="#8d908d"/>
<rect x="470.48" y="402.3" width="0.9" height="22.1" fill="#8d908d"/>
<rect x="471.95" y="402.3" width="0.9" height="22.1" fill="#8d908d"/>
<rect x="473.42" y="400.9" width="0.9" height="23.5" fill="#8d908d"/>
<rect x="474.89" y="399.5" width="0.9" height="24.9" fill="#8d908d"/>
<rect x="476.36" y="399.5" width="0.9" height="24.9" fill="#8d908d"/>
<rect x="477.83" y="402.5" width="0.9" height="21.9" fill="#8d908d"/>
<rect x="479.30" y="405.5" width="0.9" height="18.9" fill="#8d908d"/>
<rect x="480.77" y="408.8" width="0.9" height="15.6" fill="#8d908d"/>
<rect x="482.24" y="412.2" width="0.9" height="12.2" fill="#8d908d"/>
<rect x="483.71" y="415.3" width="0.9" height="9.1" fill="#8d908d"/>
<rect x="485.18" y="417.5" width="0.9" height="6.9" fill="#8d908d"/>
<rect x="486.65" y="413.7" width="0.9" height="10.7" fill="#8d908d"/>
<rect x="488.12" y="403.3" width="0.9" height="21.1" fill="#8d908d"/>
<rect x="489.59" y="398.0" width="0.9" height="26.4" fill="#8d908d"/>
<rect x="491.06" y="394.2" width="0.9" height="30.2" fill="#8d908d"/>
<rect x="492.53" y="390.3" width="0.9" height="34.1" fill="#8d908d"/>
<rect x="494.00" y="391.2" width="0.9" height="33.2" fill="#8d908d"/>
<rect x="495.47" y="393.9" width="0.9" height="30.5" fill="#8d908d"/>
<rect x="496.94" y="396.6" width="0.9" height="27.8" fill="#8d908d"/>
<rect x="498.41" y="397.8" width="0.9" height="26.6" fill="#8d908d"/>
<rect x="499.88" y="398.5" width="0.9" height="25.9" fill="#8d908d"/>
<rect x="501.35" y="399.2" width="0.9" height="25.1" fill="#8d908d"/>
<rect x="502.82" y="399.1" width="0.9" height="25.3" fill="#8d908d"/>
<rect x="504.29" y="397.7" width="0.9" height="26.7" fill="#8d908d"/>
<rect x="505.76" y="396.2" width="0.9" height="28.2" fill="#8d908d"/>
<rect x="507.23" y="394.7" width="0.9" height="29.7" fill="#8d908d"/>
<rect x="508.70" y="394.1" width="0.9" height="30.3" fill="#8d908d"/>
<rect x="510.17" y="393.5" width="0.9" height="30.9" fill="#8d908d"/>
<rect x="511.64" y="392.9" width="0.9" height="31.5" fill="#8d908d"/>
<rect x="513.11" y="392.9" width="0.9" height="31.5" fill="#8d908d"/>
<rect x="514.58" y="393.2" width="0.9" height="31.2" fill="#8d908d"/>
<rect x="516.05" y="393.5" width="0.9" height="30.9" fill="#8d908d"/>
<rect x="517.52" y="395.0" width="0.9" height="29.4" fill="#8d908d"/>
<rect x="518.99" y="396.4" width="0.9" height="28.0" fill="#8d908d"/>
<rect x="520.46" y="397.9" width="0.9" height="26.5" fill="#8d908d"/>
<rect x="521.93" y="398.8" width="0.9" height="25.6" fill="#8d908d"/>
<rect x="523.40" y="399.4" width="0.9" height="25.0" fill="#8d908d"/>
<rect x="524.87" y="400.0" width="0.9" height="24.4" fill="#8d908d"/>
<rect x="526.34" y="400.6" width="0.9" height="23.8" fill="#8d908d"/>
<rect x="527.81" y="401.4" width="0.9" height="23.0" fill="#8d908d"/>
<rect x="529.28" y="402.6" width="0.9" height="21.8" fill="#8d908d"/>
<rect x="530.75" y="403.9" width="0.9" height="20.5" fill="#8d908d"/>
<rect x="532.22" y="405.1" width="0.9" height="19.3" fill="#8d908d"/>
<rect x="533.69" y="406.3" width="0.9" height="18.1" fill="#8d908d"/>
<rect x="535.16" y="407.4" width="0.9" height="17.0" fill="#8d908d"/>
<rect x="536.63" y="407.9" width="0.9" height="16.5" fill="#8d908d"/>
<rect x="538.10" y="408.3" width="0.9" height="16.1" fill="#8d908d"/>
<rect x="539.57" y="408.8" width="0.9" height="15.6" fill="#8d908d"/>
<rect x="541.04" y="409.3" width="0.9" height="15.1" fill="#8d908d"/>
<rect x="542.51" y="409.8" width="0.9" height="14.6" fill="#8d908d"/>
<rect x="543.98" y="410.2" width="0.9" height="14.2" fill="#8d908d"/>
<rect x="545.45" y="410.7" width="0.9" height="13.7" fill="#8d908d"/>
<rect x="546.92" y="409.0" width="0.9" height="15.4" fill="#8d908d"/>
<rect x="548.39" y="404.5" width="0.9" height="19.9" fill="#8d908d"/>
<rect x="549.86" y="400.0" width="0.9" height="24.4" fill="#8d908d"/>
<rect x="551.33" y="396.9" width="0.9" height="27.5" fill="#8d908d"/>
<rect x="552.80" y="394.0" width="0.9" height="30.4" fill="#8d908d"/>
<rect x="554.27" y="391.1" width="0.9" height="33.3" fill="#8d908d"/>
<rect x="555.74" y="388.9" width="0.9" height="35.5" fill="#8d908d"/>
<rect x="557.21" y="387.5" width="0.9" height="36.9" fill="#8d908d"/>
<rect x="558.68" y="386.0" width="0.9" height="38.4" fill="#8d908d"/>
<rect x="560.15" y="384.7" width="0.9" height="39.7" fill="#8d908d"/>
<rect x="561.62" y="384.4" width="0.9" height="40.0" fill="#8d908d"/>
<rect x="563.09" y="384.1" width="0.9" height="40.3" fill="#8d908d"/>
<rect x="564.56" y="383.8" width="0.9" height="40.6" fill="#8d908d"/>
<rect x="566.03" y="383.5" width="0.9" height="40.9" fill="#8d908d"/>
<rect x="567.50" y="384.0" width="0.9" height="40.4" fill="#8d908d"/>
<rect x="568.97" y="384.7" width="0.9" height="39.7" fill="#8d908d"/>
<rect x="570.44" y="385.4" width="0.9" height="39.0" fill="#8d908d"/>
<rect x="571.91" y="386.5" width="0.9" height="37.9" fill="#8d908d"/>
<rect x="573.38" y="388.0" width="0.9" height="36.4" fill="#8d908d"/>
<rect x="574.85" y="389.5" width="0.9" height="34.9" fill="#8d908d"/>
<rect x="576.32" y="382.7" width="0.9" height="41.7" fill="#8d908d"/>
<rect x="577.79" y="375.2" width="0.9" height="49.2" fill="#8d908d"/>
<rect x="579.26" y="370.8" width="0.9" height="53.6" fill="#8d908d"/>
<rect x="580.73" y="366.4" width="0.9" height="58.0" fill="#8d908d"/>
<rect x="582.20" y="365.5" width="0.9" height="58.9" fill="#8d908d"/>
<rect x="583.67" y="367.1" width="0.9" height="57.3" fill="#8d908d"/>
<rect x="585.14" y="368.6" width="0.9" height="55.8" fill="#8d908d"/>
<rect x="586.61" y="370.4" width="0.9" height="54.0" fill="#8d908d"/>
<rect x="588.08" y="373.7" width="0.9" height="50.7" fill="#8d908d"/>
<rect x="589.55" y="377.0" width="0.9" height="47.4" fill="#8d908d"/>
<rect x="591.02" y="380.4" width="0.9" height="44.0" fill="#8d908d"/>
<rect x="592.49" y="383.8" width="0.9" height="40.6" fill="#8d908d"/>
<rect x="593.96" y="387.2" width="0.9" height="37.2" fill="#8d908d"/>
<rect x="595.43" y="389.3" width="0.9" height="35.1" fill="#8d908d"/>
<rect x="596.90" y="391.3" width="0.9" height="33.1" fill="#8d908d"/>
<rect x="598.37" y="393.4" width="0.9" height="31.0" fill="#8d908d"/>
<rect x="599.84" y="395.4" width="0.9" height="29.0" fill="#8d908d"/>
<rect x="601.31" y="397.6" width="0.9" height="26.8" fill="#8d908d"/>
<rect x="602.78" y="399.8" width="0.9" height="24.6" fill="#8d908d"/>
<rect x="604.25" y="402.0" width="0.9" height="22.4" fill="#8d908d"/>
<rect x="605.72" y="404.0" width="0.9" height="20.4" fill="#8d908d"/>
<rect x="607.19" y="405.4" width="0.9" height="19.0" fill="#8d908d"/>
<rect x="608.66" y="406.9" width="0.9" height="17.5" fill="#8d908d"/>
<rect x="610.13" y="408.4" width="0.9" height="16.0" fill="#8d908d"/>
<rect x="611.60" y="409.9" width="0.9" height="14.5" fill="#8d908d"/>
<rect x="613.07" y="412.1" width="0.9" height="12.3" fill="#8d908d"/>
<rect x="614.54" y="414.3" width="0.9" height="10.1" fill="#8d908d"/>
<rect x="616.01" y="416.5" width="0.9" height="7.9" fill="#8d908d"/>
<rect x="617.48" y="417.8" width="0.9" height="6.6" fill="#8d908d"/>
<rect x="618.95" y="418.6" width="0.9" height="5.8" fill="#8d908d"/>
<rect x="620.42" y="419.3" width="0.9" height="5.1" fill="#8d908d"/>
<rect x="621.89" y="419.0" width="0.9" height="5.4" fill="#8d908d"/>
<rect x="623.36" y="418.6" width="0.9" height="5.8" fill="#8d908d"/>
<rect x="624.83" y="417.7" width="0.9" height="6.7" fill="#8d908d"/>
<rect x="626.30" y="416.8" width="0.9" height="7.6" fill="#8d908d"/>
<rect x="627.77" y="416.0" width="0.9" height="8.4" fill="#8d908d"/>
<rect x="629.24" y="415.3" width="0.9" height="9.1" fill="#8d908d"/>
<rect x="630.71" y="415.6" width="0.9" height="8.8" fill="#8d908d"/>
<rect x="632.18" y="415.9" width="0.9" height="8.5" fill="#8d908d"/>
<rect x="633.65" y="402.1" width="0.9" height="22.3" fill="#8d908d"/>
<rect x="635.12" y="399.0" width="0.9" height="25.4" fill="#8d908d"/>
<rect x="636.59" y="395.9" width="0.9" height="28.5" fill="#8d908d"/>
<polyline points="2.0,399.2 7.5,392.2 13.8,387.2 17.6,388.4 22.6,397.2 27.6,408.5 32.7,416.8 37.7,421.0 45.2,422.4 50.3,426.0 56.5,430.4 61.5,431.0 67.8,427.4 75.4,422.4 83.0,418.0 88.0,417.3 94.2,419.3 100.5,424.4 108.0,427.4 118.0,430.4 128.0,431.9 135.7,436.2 143.2,442.0 150.8,445.5 158.3,446.2 164.6,444.5 169.6,437.4 173.4,427.4 177.0,416.0 181.0,410.3 186.0,407.8 192.2,408.5 198.5,406.0 203.5,404.0 208.0,403.5 215.5,411.0 223.0,414.8 230.6,416.0 238.2,419.8 245.7,424.9 252.0,426.0 258.3,421.0 264.5,414.8 270.8,412.8 277.0,414.3 283.4,416.8 289.7,423.6 296.0,428.6 303.5,431.9 311.0,433.7 318.6,441.2 326.0,450.0 332.4,453.3 338.7,452.5 345.0,446.2 351.2,434.9 357.5,427.4 363.8,426.9 371.3,428.6 378.9,433.7 385.0,436.2 392.7,434.9 400.2,432.4 407.7,429.9 416.0,428.6 423.5,426.9 431.0,423.6 438.6,417.8 444.9,414.8 451.2,416.0 458.7,417.8 466.3,413.6 472.5,406.0 477.6,401.0 482.6,404.8 487.6,409.3 492.6,403.5 499.0,394.7 504.0,394.7 510.2,397.2 516.5,394.7 521.5,396.7 527.8,401.0 535.3,405.3 541.6,408.5 546.7,410.3 553.0,403.5 559.2,393.5 565.5,387.2 571.8,384.2 576.8,385.2 581.8,378.4 586.9,371.6 590.6,370.0 594.4,374.6 600.7,384.7 607.0,394.7 613.2,404.8 619.5,412.3 624.0,415.0 627.0,417.8 632.0,417.8 635.8,414.8 637.6,411.0" fill="none" stroke="#f25c4e" stroke-width="0.7" stroke-dasharray="1 1.15"/>
<rect x="0" y="0" width="830" height="0.95" fill="#c8c8c8"/>
<rect x="0" y="0.95" width="830" height="1.5" fill="#9fa99f"/>
<rect x="0" y="2.45" width="830" height="0.5" fill="#cfdccf"/>
<polygon points="636.8,1.9 642.2,1.9 639.5,4.9" fill="#8e938e"/>
<rect x="0" y="0.95" width="1.35" height="467.6" fill="#a6a8a6"/>
<rect x="1.35" y="2.3" width="0.55" height="466.2" fill="#c6cfc6"/>
<rect x="0" y="468.7" width="830" height="1.3" fill="#eaeeea"/>
<rect x="829" y="2.8" width="1" height="466" fill="#f5faf5"/>
<rect x="1.5" y="357.7" width="799.5" height="2.3" fill="#8c8f8c"/>
<rect x="799.05" y="1.5" width="1.9" height="458.3" fill="#a9b0a9"/>
<rect x="1.5" y="458.8" width="799.2" height="1" fill="#8c8f8c"/>
<rect x="800.6" y="10.2" width="1.1" height="0.8" fill="#666"/>
<g filter="url(#tb)"><text transform="translate(802.70,13.00) scale(0.79,1)" font-size="6.6" fill="#222" xml:space="preserve">17047.50</text></g>
<rect x="800.6" y="34.1" width="1.1" height="0.8" fill="#666"/>
<g filter="url(#tb)"><text transform="translate(802.70,36.94) scale(0.79,1)" font-size="6.6" fill="#222" xml:space="preserve">16904.50</text></g>
<rect x="800.6" y="58.0" width="1.1" height="0.8" fill="#666"/>
<g filter="url(#tb)"><text transform="translate(802.70,60.88) scale(0.79,1)" font-size="6.6" fill="#222" xml:space="preserve">16761.50</text></g>
<rect x="800.6" y="82.0" width="1.1" height="0.8" fill="#666"/>
<g filter="url(#tb)"><text transform="translate(802.70,84.82) scale(0.79,1)" font-size="6.6" fill="#222" xml:space="preserve">16616.30</text></g>
<rect x="800.6" y="105.9" width="1.1" height="0.8" fill="#666"/>
<g filter="url(#tb)"><text transform="translate(802.70,108.76) scale(0.79,1)" font-size="6.6" fill="#222" xml:space="preserve">16473.30</text></g>
<rect x="800.6" y="129.9" width="1.1" height="0.8" fill="#666"/>
<g filter="url(#tb)"><text transform="translate(802.70,132.70) scale(0.79,1)" font-size="6.6" fill="#222" xml:space="preserve">16328.10</text></g>
<rect x="800.6" y="153.8" width="1.1" height="0.8" fill="#666"/>
<g filter="url(#tb)"><text transform="translate(802.70,156.64) scale(0.79,1)" font-size="6.6" fill="#222" xml:space="preserve">16185.10</text></g>
<rect x="800.6" y="177.7" width="1.1" height="0.8" fill="#666"/>
<g filter="url(#tb)"><text transform="translate(802.70,180.58) scale(0.79,1)" font-size="6.6" fill="#222" xml:space="preserve">16042.10</text></g>
<rect x="800.6" y="201.7" width="1.1" height="0.8" fill="#666"/>
<g filter="url(#tb)"><text transform="translate(802.70,204.52) scale(0.79,1)" font-size="6.6" fill="#222" xml:space="preserve">15896.90</text></g>
<rect x="800.6" y="225.6" width="1.1" height="0.8" fill="#666"/>
<g filter="url(#tb)"><text transform="translate(802.70,228.46) scale(0.79,1)" font-size="6.6" fill="#222" xml:space="preserve">15753.90</text></g>
<rect x="800.6" y="249.6" width="1.1" height="0.8" fill="#666"/>
<g filter="url(#tb)"><text transform="translate(802.70,252.40) scale(0.79,1)" font-size="6.6" fill="#222" xml:space="preserve">15608.70</text></g>
<rect x="800.6" y="273.5" width="1.1" height="0.8" fill="#666"/>
<g filter="url(#tb)"><text transform="translate(802.70,276.34) scale(0.79,1)" font-size="6.6" fill="#222" xml:space="preserve">15465.70</text></g>
<rect x="800.6" y="297.4" width="1.1" height="0.8" fill="#666"/>
<g filter="url(#tb)"><text transform="translate(802.70,300.28) scale(0.79,1)" font-size="6.6" fill="#222" xml:space="preserve">15322.70</text></g>
<rect x="800.6" y="321.4" width="1.1" height="0.8" fill="#666"/>
<g filter="url(#tb)"><text transform="translate(802.70,324.22) scale(0.79,1)" font-size="6.6" fill="#222" xml:space="preserve">15179.70</text></g>
<rect x="800.6" y="345.3" width="1.1" height="0.8" fill="#666"/>
<g filter="url(#tb)"><text transform="translate(802.70,348.16) scale(0.79,1)" font-size="6.6" fill="#222" xml:space="preserve">15034.50</text></g>
<rect x="800.6" y="15.3" width="25.5" height="6.3" fill="#ff0000"/>
<g filter="url(#tb)"><text transform="translate(802.70,20.90) scale(0.79,1)" font-size="6.6" fill="#fff" xml:space="preserve">17003.39</text></g>
<rect x="800.6" y="318.0" width="25.5" height="6.3" fill="#ff0000"/>
<g filter="url(#tb)"><text transform="translate(802.70,323.50) scale(0.79,1)" font-size="6.6" fill="#fff" xml:space="preserve">15184.26</text></g>
<rect x="800.6" y="33.0" width="25.5" height="6.3" fill="#0000ff"/>
<g filter="url(#tb)"><text transform="translate(802.70,38.50) scale(0.79,1)" font-size="6.6" fill="#fff" xml:space="preserve">16897.60</text></g>
<rect x="800.6" y="108.9" width="25.5" height="6.3" fill="#0000ff"/>
<g filter="url(#tb)"><text transform="translate(802.70,114.50) scale(0.79,1)" font-size="6.6" fill="#fff" xml:space="preserve">16442.48</text></g>
<rect x="800.6" y="155.2" width="25.5" height="6.3" fill="#0000ff"/>
<g filter="url(#tb)"><text transform="translate(802.70,160.75) scale(0.79,1)" font-size="6.6" fill="#fff" xml:space="preserve">16163.00</text></g>
<rect x="800.6" y="237.9" width="25.5" height="6.3" fill="#0000ff"/>
<g filter="url(#tb)"><text transform="translate(802.70,243.50) scale(0.79,1)" font-size="6.6" fill="#fff" xml:space="preserve">15666.41</text></g>
<rect x="800.6" y="298.0" width="25.5" height="6.3" fill="#0000ff"/>
<g filter="url(#tb)"><text transform="translate(802.70,303.50) scale(0.79,1)" font-size="6.6" fill="#fff" xml:space="preserve">15305.81</text></g>
<rect x="800.6" y="87.2" width="25.5" height="6.3" fill="#000"/>
<g filter="url(#tb)"><text transform="translate(802.70,92.80) scale(0.79,1)" font-size="6.6" fill="#fff" xml:space="preserve">16568.00</text></g>
<g filter="url(#tb)"><text transform="translate(801.40,365.70) scale(0.79,1)" font-size="6.6" fill="#222" xml:space="preserve">134.585</text></g>
<g filter="url(#tb)"><text transform="translate(801.40,427.30) scale(0.79,1)" font-size="6.6" fill="#222" xml:space="preserve">0.00</text></g>
<g filter="url(#tb)"><text transform="translate(801.40,458.20) scale(0.79,1)" font-size="6.6" fill="#222" xml:space="preserve">-73.039</text></g>
<polygon points="2.9,4.6 7.0,4.6 4.95,7.2" fill="#050505"/>
<g filter="url(#tb)"><text transform="translate(9.30,8.60) scale(0.79,1)" font-size="6.6" fill="#111" xml:space="preserve">CNA50_2112,H1</text></g>
<g filter="url(#tb)"><text transform="translate(50.50,8.60) scale(0.8,1)" font-size="6.6" fill="#111" xml:space="preserve">16540.00 16608.00 16510.00 16568.00</text></g>
<g filter="url(#tb)"><text transform="translate(3.00,366.20) scale(0.79,1)" font-size="6.6" fill="#111" xml:space="preserve">MACD(12,26,9) 61.878 29.277</text></g>
<rect x="1.6" y="459.5" width="0.9" height="1.6" fill="#777"/>
<g filter="url(#tb)"><text transform="translate(2.00,466.00) scale(0.79,1)" font-size="6.6" fill="#222" xml:space="preserve">11 Nov 2021</text></g>
<rect x="48.7" y="459.5" width="0.9" height="1.6" fill="#777"/>
<g filter="url(#tb)"><text transform="translate(49.12,466.00) scale(0.79,1)" font-size="6.6" fill="#222" xml:space="preserve">15 Nov 05:00</text></g>
<rect x="95.8" y="459.5" width="0.9" height="1.6" fill="#777"/>
<g filter="url(#tb)"><text transform="translate(96.24,466.00) scale(0.79,1)" font-size="6.6" fill="#222" xml:space="preserve">16 Nov 17:00</text></g>
<rect x="143.0" y="459.5" width="0.9" height="1.6" fill="#777"/>
<g filter="url(#tb)"><text transform="translate(143.36,466.00) scale(0.79,1)" font-size="6.6" fill="#222" xml:space="preserve">18 Nov 09:00</text></g>
<rect x="190.1" y="459.5" width="0.9" height="1.6" fill="#777"/>
<g filter="url(#tb)"><text transform="translate(190.48,466.00) scale(0.79,1)" font-size="6.6" fill="#222" xml:space="preserve">19 Nov 21:00</text></g>
<rect x="237.2" y="459.5" width="0.9" height="1.6" fill="#777"/>
<g filter="url(#tb)"><text transform="translate(237.60,466.00) scale(0.79,1)" font-size="6.6" fill="#222" xml:space="preserve">23 Nov 13:00</text></g>
<rect x="284.3" y="459.5" width="0.9" height="1.6" fill="#777"/>
<g filter="url(#tb)"><text transform="translate(284.72,466.00) scale(0.79,1)" font-size="6.6" fill="#222" xml:space="preserve">25 Nov 05:00</text></g>
<rect x="331.4" y="459.5" width="0.9" height="1.6" fill="#777"/>
<g filter="url(#tb)"><text transform="translate(331.84,466.00) scale(0.79,1)" font-size="6.6" fill="#222" xml:space="preserve">26 Nov 17:00</text></g>
<rect x="378.6" y="459.5" width="0.9" height="1.6" fill="#777"/>
<g filter="url(#tb)"><text transform="translate(378.96,466.00) scale(0.79,1)" font-size="6.6" fill="#222" xml:space="preserve">30 Nov 09:00</text></g>
<rect x="425.7" y="459.5" width="0.9" height="1.6" fill="#777"/>
<g filter="url(#tb)"><text transform="translate(426.08,466.00) scale(0.79,1)" font-size="6.6" fill="#222" xml:space="preserve">1 Dec 21:00</text></g>
<rect x="472.8" y="459.5" width="0.9" height="1.6" fill="#777"/>
<g filter="url(#tb)"><text transform="translate(473.20,466.00) scale(0.79,1)" font-size="6.6" fill="#222" xml:space="preserve">3 Dec 13:00</text></g>
<rect x="519.9" y="459.5" width="0.9" height="1.6" fill="#777"/>
<g filter="url(#tb)"><text transform="translate(520.32,466.00) scale(0.79,1)" font-size="6.6" fill="#222" xml:space="preserve">7 Dec 05:00</text></g>
<rect x="567.0" y="459.5" width="0.9" height="1.6" fill="#777"/>
<g filter="url(#tb)"><text transform="translate(567.44,466.00) scale(0.79,1)" font-size="6.6" fill="#222" xml:space="preserve">8 Dec 17:00</text></g>
<rect x="614.2" y="459.5" width="0.9" height="1.6" fill="#777"/>
<g filter="url(#tb)"><text transform="translate(614.56,466.00) scale(0.79,1)" font-size="6.6" fill="#222" xml:space="preserve">10 Dec 09:00</text></g>
</svg></body></html>
